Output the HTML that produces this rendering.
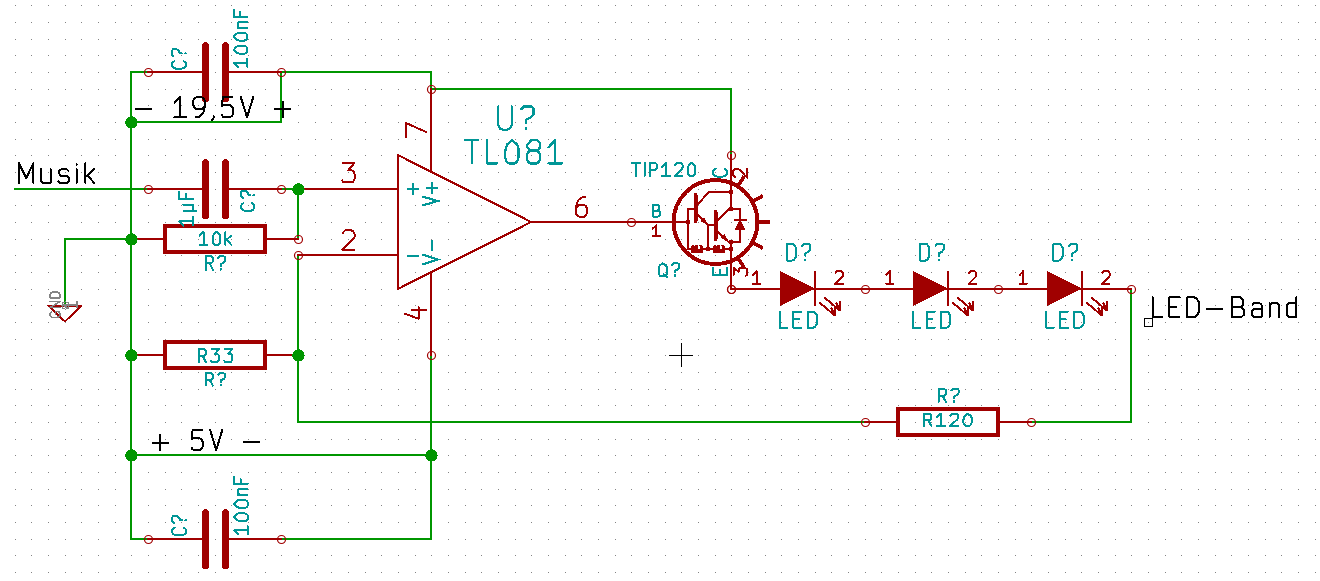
<!DOCTYPE html>
<html><head><meta charset="utf-8"><style>
html,body{margin:0;padding:0;background:#fff;overflow:hidden}
svg{display:block;shape-rendering:crispEdges}
text{font-family:"Liberation Sans",sans-serif;font-size:100px}
</style></head><body>
<svg width="1320" height="581" viewBox="0 0 1320 581">
<rect width="1320" height="581" fill="#fff"/>
<path fill="#848484" d="M15 5h1v1h-1zM15 22h1v1h-1zM15 39h1v1h-1zM15 55h1v1h-1zM15 72h1v1h-1zM15 89h1v1h-1zM15 105h1v1h-1zM15 122h1v1h-1zM15 139h1v1h-1zM15 155h1v1h-1zM15 172h1v1h-1zM15 189h1v1h-1zM15 205h1v1h-1zM15 222h1v1h-1zM15 239h1v1h-1zM15 255h1v1h-1zM15 272h1v1h-1zM15 289h1v1h-1zM15 305h1v1h-1zM15 322h1v1h-1zM15 339h1v1h-1zM15 355h1v1h-1zM15 372h1v1h-1zM15 389h1v1h-1zM15 405h1v1h-1zM15 422h1v1h-1zM15 439h1v1h-1zM15 455h1v1h-1zM15 472h1v1h-1zM15 489h1v1h-1zM15 505h1v1h-1zM15 522h1v1h-1zM15 539h1v1h-1zM15 555h1v1h-1zM15 572h1v1h-1zM31 5h1v1h-1zM31 22h1v1h-1zM31 39h1v1h-1zM31 55h1v1h-1zM31 72h1v1h-1zM31 89h1v1h-1zM31 105h1v1h-1zM31 122h1v1h-1zM31 139h1v1h-1zM31 155h1v1h-1zM31 172h1v1h-1zM31 189h1v1h-1zM31 205h1v1h-1zM31 222h1v1h-1zM31 239h1v1h-1zM31 255h1v1h-1zM31 272h1v1h-1zM31 289h1v1h-1zM31 305h1v1h-1zM31 322h1v1h-1zM31 339h1v1h-1zM31 355h1v1h-1zM31 372h1v1h-1zM31 389h1v1h-1zM31 405h1v1h-1zM31 422h1v1h-1zM31 439h1v1h-1zM31 455h1v1h-1zM31 472h1v1h-1zM31 489h1v1h-1zM31 505h1v1h-1zM31 522h1v1h-1zM31 539h1v1h-1zM31 555h1v1h-1zM31 572h1v1h-1zM48 5h1v1h-1zM48 22h1v1h-1zM48 39h1v1h-1zM48 55h1v1h-1zM48 72h1v1h-1zM48 89h1v1h-1zM48 105h1v1h-1zM48 122h1v1h-1zM48 139h1v1h-1zM48 155h1v1h-1zM48 172h1v1h-1zM48 189h1v1h-1zM48 205h1v1h-1zM48 222h1v1h-1zM48 239h1v1h-1zM48 255h1v1h-1zM48 272h1v1h-1zM48 289h1v1h-1zM48 305h1v1h-1zM48 322h1v1h-1zM48 339h1v1h-1zM48 355h1v1h-1zM48 372h1v1h-1zM48 389h1v1h-1zM48 405h1v1h-1zM48 422h1v1h-1zM48 439h1v1h-1zM48 455h1v1h-1zM48 472h1v1h-1zM48 489h1v1h-1zM48 505h1v1h-1zM48 522h1v1h-1zM48 539h1v1h-1zM48 555h1v1h-1zM48 572h1v1h-1zM65 5h1v1h-1zM65 22h1v1h-1zM65 39h1v1h-1zM65 55h1v1h-1zM65 72h1v1h-1zM65 89h1v1h-1zM65 105h1v1h-1zM65 122h1v1h-1zM65 139h1v1h-1zM65 155h1v1h-1zM65 172h1v1h-1zM65 189h1v1h-1zM65 205h1v1h-1zM65 222h1v1h-1zM65 239h1v1h-1zM65 255h1v1h-1zM65 272h1v1h-1zM65 289h1v1h-1zM65 305h1v1h-1zM65 322h1v1h-1zM65 339h1v1h-1zM65 355h1v1h-1zM65 372h1v1h-1zM65 389h1v1h-1zM65 405h1v1h-1zM65 422h1v1h-1zM65 439h1v1h-1zM65 455h1v1h-1zM65 472h1v1h-1zM65 489h1v1h-1zM65 505h1v1h-1zM65 522h1v1h-1zM65 539h1v1h-1zM65 555h1v1h-1zM65 572h1v1h-1zM81 5h1v1h-1zM81 22h1v1h-1zM81 39h1v1h-1zM81 55h1v1h-1zM81 72h1v1h-1zM81 89h1v1h-1zM81 105h1v1h-1zM81 122h1v1h-1zM81 139h1v1h-1zM81 155h1v1h-1zM81 172h1v1h-1zM81 189h1v1h-1zM81 205h1v1h-1zM81 222h1v1h-1zM81 239h1v1h-1zM81 255h1v1h-1zM81 272h1v1h-1zM81 289h1v1h-1zM81 305h1v1h-1zM81 322h1v1h-1zM81 339h1v1h-1zM81 355h1v1h-1zM81 372h1v1h-1zM81 389h1v1h-1zM81 405h1v1h-1zM81 422h1v1h-1zM81 439h1v1h-1zM81 455h1v1h-1zM81 472h1v1h-1zM81 489h1v1h-1zM81 505h1v1h-1zM81 522h1v1h-1zM81 539h1v1h-1zM81 555h1v1h-1zM81 572h1v1h-1zM98 5h1v1h-1zM98 22h1v1h-1zM98 39h1v1h-1zM98 55h1v1h-1zM98 72h1v1h-1zM98 89h1v1h-1zM98 105h1v1h-1zM98 122h1v1h-1zM98 139h1v1h-1zM98 155h1v1h-1zM98 172h1v1h-1zM98 189h1v1h-1zM98 205h1v1h-1zM98 222h1v1h-1zM98 239h1v1h-1zM98 255h1v1h-1zM98 272h1v1h-1zM98 289h1v1h-1zM98 305h1v1h-1zM98 322h1v1h-1zM98 339h1v1h-1zM98 355h1v1h-1zM98 372h1v1h-1zM98 389h1v1h-1zM98 405h1v1h-1zM98 422h1v1h-1zM98 439h1v1h-1zM98 455h1v1h-1zM98 472h1v1h-1zM98 489h1v1h-1zM98 505h1v1h-1zM98 522h1v1h-1zM98 539h1v1h-1zM98 555h1v1h-1zM98 572h1v1h-1zM115 5h1v1h-1zM115 22h1v1h-1zM115 39h1v1h-1zM115 55h1v1h-1zM115 72h1v1h-1zM115 89h1v1h-1zM115 105h1v1h-1zM115 122h1v1h-1zM115 139h1v1h-1zM115 155h1v1h-1zM115 172h1v1h-1zM115 189h1v1h-1zM115 205h1v1h-1zM115 222h1v1h-1zM115 239h1v1h-1zM115 255h1v1h-1zM115 272h1v1h-1zM115 289h1v1h-1zM115 305h1v1h-1zM115 322h1v1h-1zM115 339h1v1h-1zM115 355h1v1h-1zM115 372h1v1h-1zM115 389h1v1h-1zM115 405h1v1h-1zM115 422h1v1h-1zM115 439h1v1h-1zM115 455h1v1h-1zM115 472h1v1h-1zM115 489h1v1h-1zM115 505h1v1h-1zM115 522h1v1h-1zM115 539h1v1h-1zM115 555h1v1h-1zM115 572h1v1h-1zM131 5h1v1h-1zM131 22h1v1h-1zM131 39h1v1h-1zM131 55h1v1h-1zM131 72h1v1h-1zM131 89h1v1h-1zM131 105h1v1h-1zM131 122h1v1h-1zM131 139h1v1h-1zM131 155h1v1h-1zM131 172h1v1h-1zM131 189h1v1h-1zM131 205h1v1h-1zM131 222h1v1h-1zM131 239h1v1h-1zM131 255h1v1h-1zM131 272h1v1h-1zM131 289h1v1h-1zM131 305h1v1h-1zM131 322h1v1h-1zM131 339h1v1h-1zM131 355h1v1h-1zM131 372h1v1h-1zM131 389h1v1h-1zM131 405h1v1h-1zM131 422h1v1h-1zM131 439h1v1h-1zM131 455h1v1h-1zM131 472h1v1h-1zM131 489h1v1h-1zM131 505h1v1h-1zM131 522h1v1h-1zM131 539h1v1h-1zM131 555h1v1h-1zM131 572h1v1h-1zM148 5h1v1h-1zM148 22h1v1h-1zM148 39h1v1h-1zM148 55h1v1h-1zM148 72h1v1h-1zM148 89h1v1h-1zM148 105h1v1h-1zM148 122h1v1h-1zM148 139h1v1h-1zM148 155h1v1h-1zM148 172h1v1h-1zM148 189h1v1h-1zM148 205h1v1h-1zM148 222h1v1h-1zM148 239h1v1h-1zM148 255h1v1h-1zM148 272h1v1h-1zM148 289h1v1h-1zM148 305h1v1h-1zM148 322h1v1h-1zM148 339h1v1h-1zM148 355h1v1h-1zM148 372h1v1h-1zM148 389h1v1h-1zM148 405h1v1h-1zM148 422h1v1h-1zM148 439h1v1h-1zM148 455h1v1h-1zM148 472h1v1h-1zM148 489h1v1h-1zM148 505h1v1h-1zM148 522h1v1h-1zM148 539h1v1h-1zM148 555h1v1h-1zM148 572h1v1h-1zM165 5h1v1h-1zM165 22h1v1h-1zM165 39h1v1h-1zM165 55h1v1h-1zM165 72h1v1h-1zM165 89h1v1h-1zM165 105h1v1h-1zM165 122h1v1h-1zM165 139h1v1h-1zM165 155h1v1h-1zM165 172h1v1h-1zM165 189h1v1h-1zM165 205h1v1h-1zM165 222h1v1h-1zM165 239h1v1h-1zM165 255h1v1h-1zM165 272h1v1h-1zM165 289h1v1h-1zM165 305h1v1h-1zM165 322h1v1h-1zM165 339h1v1h-1zM165 355h1v1h-1zM165 372h1v1h-1zM165 389h1v1h-1zM165 405h1v1h-1zM165 422h1v1h-1zM165 439h1v1h-1zM165 455h1v1h-1zM165 472h1v1h-1zM165 489h1v1h-1zM165 505h1v1h-1zM165 522h1v1h-1zM165 539h1v1h-1zM165 555h1v1h-1zM165 572h1v1h-1zM181 5h1v1h-1zM181 22h1v1h-1zM181 39h1v1h-1zM181 55h1v1h-1zM181 72h1v1h-1zM181 89h1v1h-1zM181 105h1v1h-1zM181 122h1v1h-1zM181 139h1v1h-1zM181 155h1v1h-1zM181 172h1v1h-1zM181 189h1v1h-1zM181 205h1v1h-1zM181 222h1v1h-1zM181 239h1v1h-1zM181 255h1v1h-1zM181 272h1v1h-1zM181 289h1v1h-1zM181 305h1v1h-1zM181 322h1v1h-1zM181 339h1v1h-1zM181 355h1v1h-1zM181 372h1v1h-1zM181 389h1v1h-1zM181 405h1v1h-1zM181 422h1v1h-1zM181 439h1v1h-1zM181 455h1v1h-1zM181 472h1v1h-1zM181 489h1v1h-1zM181 505h1v1h-1zM181 522h1v1h-1zM181 539h1v1h-1zM181 555h1v1h-1zM181 572h1v1h-1zM198 5h1v1h-1zM198 22h1v1h-1zM198 39h1v1h-1zM198 55h1v1h-1zM198 72h1v1h-1zM198 89h1v1h-1zM198 105h1v1h-1zM198 122h1v1h-1zM198 139h1v1h-1zM198 155h1v1h-1zM198 172h1v1h-1zM198 189h1v1h-1zM198 205h1v1h-1zM198 222h1v1h-1zM198 239h1v1h-1zM198 255h1v1h-1zM198 272h1v1h-1zM198 289h1v1h-1zM198 305h1v1h-1zM198 322h1v1h-1zM198 339h1v1h-1zM198 355h1v1h-1zM198 372h1v1h-1zM198 389h1v1h-1zM198 405h1v1h-1zM198 422h1v1h-1zM198 439h1v1h-1zM198 455h1v1h-1zM198 472h1v1h-1zM198 489h1v1h-1zM198 505h1v1h-1zM198 522h1v1h-1zM198 539h1v1h-1zM198 555h1v1h-1zM198 572h1v1h-1zM215 5h1v1h-1zM215 22h1v1h-1zM215 39h1v1h-1zM215 55h1v1h-1zM215 72h1v1h-1zM215 89h1v1h-1zM215 105h1v1h-1zM215 122h1v1h-1zM215 139h1v1h-1zM215 155h1v1h-1zM215 172h1v1h-1zM215 189h1v1h-1zM215 205h1v1h-1zM215 222h1v1h-1zM215 239h1v1h-1zM215 255h1v1h-1zM215 272h1v1h-1zM215 289h1v1h-1zM215 305h1v1h-1zM215 322h1v1h-1zM215 339h1v1h-1zM215 355h1v1h-1zM215 372h1v1h-1zM215 389h1v1h-1zM215 405h1v1h-1zM215 422h1v1h-1zM215 439h1v1h-1zM215 455h1v1h-1zM215 472h1v1h-1zM215 489h1v1h-1zM215 505h1v1h-1zM215 522h1v1h-1zM215 539h1v1h-1zM215 555h1v1h-1zM215 572h1v1h-1zM231 5h1v1h-1zM231 22h1v1h-1zM231 39h1v1h-1zM231 55h1v1h-1zM231 72h1v1h-1zM231 89h1v1h-1zM231 105h1v1h-1zM231 122h1v1h-1zM231 139h1v1h-1zM231 155h1v1h-1zM231 172h1v1h-1zM231 189h1v1h-1zM231 205h1v1h-1zM231 222h1v1h-1zM231 239h1v1h-1zM231 255h1v1h-1zM231 272h1v1h-1zM231 289h1v1h-1zM231 305h1v1h-1zM231 322h1v1h-1zM231 339h1v1h-1zM231 355h1v1h-1zM231 372h1v1h-1zM231 389h1v1h-1zM231 405h1v1h-1zM231 422h1v1h-1zM231 439h1v1h-1zM231 455h1v1h-1zM231 472h1v1h-1zM231 489h1v1h-1zM231 505h1v1h-1zM231 522h1v1h-1zM231 539h1v1h-1zM231 555h1v1h-1zM231 572h1v1h-1zM248 5h1v1h-1zM248 22h1v1h-1zM248 39h1v1h-1zM248 55h1v1h-1zM248 72h1v1h-1zM248 89h1v1h-1zM248 105h1v1h-1zM248 122h1v1h-1zM248 139h1v1h-1zM248 155h1v1h-1zM248 172h1v1h-1zM248 189h1v1h-1zM248 205h1v1h-1zM248 222h1v1h-1zM248 239h1v1h-1zM248 255h1v1h-1zM248 272h1v1h-1zM248 289h1v1h-1zM248 305h1v1h-1zM248 322h1v1h-1zM248 339h1v1h-1zM248 355h1v1h-1zM248 372h1v1h-1zM248 389h1v1h-1zM248 405h1v1h-1zM248 422h1v1h-1zM248 439h1v1h-1zM248 455h1v1h-1zM248 472h1v1h-1zM248 489h1v1h-1zM248 505h1v1h-1zM248 522h1v1h-1zM248 539h1v1h-1zM248 555h1v1h-1zM248 572h1v1h-1zM265 5h1v1h-1zM265 22h1v1h-1zM265 39h1v1h-1zM265 55h1v1h-1zM265 72h1v1h-1zM265 89h1v1h-1zM265 105h1v1h-1zM265 122h1v1h-1zM265 139h1v1h-1zM265 155h1v1h-1zM265 172h1v1h-1zM265 189h1v1h-1zM265 205h1v1h-1zM265 222h1v1h-1zM265 239h1v1h-1zM265 255h1v1h-1zM265 272h1v1h-1zM265 289h1v1h-1zM265 305h1v1h-1zM265 322h1v1h-1zM265 339h1v1h-1zM265 355h1v1h-1zM265 372h1v1h-1zM265 389h1v1h-1zM265 405h1v1h-1zM265 422h1v1h-1zM265 439h1v1h-1zM265 455h1v1h-1zM265 472h1v1h-1zM265 489h1v1h-1zM265 505h1v1h-1zM265 522h1v1h-1zM265 539h1v1h-1zM265 555h1v1h-1zM265 572h1v1h-1zM281 5h1v1h-1zM281 22h1v1h-1zM281 39h1v1h-1zM281 55h1v1h-1zM281 72h1v1h-1zM281 89h1v1h-1zM281 105h1v1h-1zM281 122h1v1h-1zM281 139h1v1h-1zM281 155h1v1h-1zM281 172h1v1h-1zM281 189h1v1h-1zM281 205h1v1h-1zM281 222h1v1h-1zM281 239h1v1h-1zM281 255h1v1h-1zM281 272h1v1h-1zM281 289h1v1h-1zM281 305h1v1h-1zM281 322h1v1h-1zM281 339h1v1h-1zM281 355h1v1h-1zM281 372h1v1h-1zM281 389h1v1h-1zM281 405h1v1h-1zM281 422h1v1h-1zM281 439h1v1h-1zM281 455h1v1h-1zM281 472h1v1h-1zM281 489h1v1h-1zM281 505h1v1h-1zM281 522h1v1h-1zM281 539h1v1h-1zM281 555h1v1h-1zM281 572h1v1h-1zM298 5h1v1h-1zM298 22h1v1h-1zM298 39h1v1h-1zM298 55h1v1h-1zM298 72h1v1h-1zM298 89h1v1h-1zM298 105h1v1h-1zM298 122h1v1h-1zM298 139h1v1h-1zM298 155h1v1h-1zM298 172h1v1h-1zM298 189h1v1h-1zM298 205h1v1h-1zM298 222h1v1h-1zM298 239h1v1h-1zM298 255h1v1h-1zM298 272h1v1h-1zM298 289h1v1h-1zM298 305h1v1h-1zM298 322h1v1h-1zM298 339h1v1h-1zM298 355h1v1h-1zM298 372h1v1h-1zM298 389h1v1h-1zM298 405h1v1h-1zM298 422h1v1h-1zM298 439h1v1h-1zM298 455h1v1h-1zM298 472h1v1h-1zM298 489h1v1h-1zM298 505h1v1h-1zM298 522h1v1h-1zM298 539h1v1h-1zM298 555h1v1h-1zM298 572h1v1h-1zM315 5h1v1h-1zM315 22h1v1h-1zM315 39h1v1h-1zM315 55h1v1h-1zM315 72h1v1h-1zM315 89h1v1h-1zM315 105h1v1h-1zM315 122h1v1h-1zM315 139h1v1h-1zM315 155h1v1h-1zM315 172h1v1h-1zM315 189h1v1h-1zM315 205h1v1h-1zM315 222h1v1h-1zM315 239h1v1h-1zM315 255h1v1h-1zM315 272h1v1h-1zM315 289h1v1h-1zM315 305h1v1h-1zM315 322h1v1h-1zM315 339h1v1h-1zM315 355h1v1h-1zM315 372h1v1h-1zM315 389h1v1h-1zM315 405h1v1h-1zM315 422h1v1h-1zM315 439h1v1h-1zM315 455h1v1h-1zM315 472h1v1h-1zM315 489h1v1h-1zM315 505h1v1h-1zM315 522h1v1h-1zM315 539h1v1h-1zM315 555h1v1h-1zM315 572h1v1h-1zM331 5h1v1h-1zM331 22h1v1h-1zM331 39h1v1h-1zM331 55h1v1h-1zM331 72h1v1h-1zM331 89h1v1h-1zM331 105h1v1h-1zM331 122h1v1h-1zM331 139h1v1h-1zM331 155h1v1h-1zM331 172h1v1h-1zM331 189h1v1h-1zM331 205h1v1h-1zM331 222h1v1h-1zM331 239h1v1h-1zM331 255h1v1h-1zM331 272h1v1h-1zM331 289h1v1h-1zM331 305h1v1h-1zM331 322h1v1h-1zM331 339h1v1h-1zM331 355h1v1h-1zM331 372h1v1h-1zM331 389h1v1h-1zM331 405h1v1h-1zM331 422h1v1h-1zM331 439h1v1h-1zM331 455h1v1h-1zM331 472h1v1h-1zM331 489h1v1h-1zM331 505h1v1h-1zM331 522h1v1h-1zM331 539h1v1h-1zM331 555h1v1h-1zM331 572h1v1h-1zM348 5h1v1h-1zM348 22h1v1h-1zM348 39h1v1h-1zM348 55h1v1h-1zM348 72h1v1h-1zM348 89h1v1h-1zM348 105h1v1h-1zM348 122h1v1h-1zM348 139h1v1h-1zM348 155h1v1h-1zM348 172h1v1h-1zM348 189h1v1h-1zM348 205h1v1h-1zM348 222h1v1h-1zM348 239h1v1h-1zM348 255h1v1h-1zM348 272h1v1h-1zM348 289h1v1h-1zM348 305h1v1h-1zM348 322h1v1h-1zM348 339h1v1h-1zM348 355h1v1h-1zM348 372h1v1h-1zM348 389h1v1h-1zM348 405h1v1h-1zM348 422h1v1h-1zM348 439h1v1h-1zM348 455h1v1h-1zM348 472h1v1h-1zM348 489h1v1h-1zM348 505h1v1h-1zM348 522h1v1h-1zM348 539h1v1h-1zM348 555h1v1h-1zM348 572h1v1h-1zM365 5h1v1h-1zM365 22h1v1h-1zM365 39h1v1h-1zM365 55h1v1h-1zM365 72h1v1h-1zM365 89h1v1h-1zM365 105h1v1h-1zM365 122h1v1h-1zM365 139h1v1h-1zM365 155h1v1h-1zM365 172h1v1h-1zM365 189h1v1h-1zM365 205h1v1h-1zM365 222h1v1h-1zM365 239h1v1h-1zM365 255h1v1h-1zM365 272h1v1h-1zM365 289h1v1h-1zM365 305h1v1h-1zM365 322h1v1h-1zM365 339h1v1h-1zM365 355h1v1h-1zM365 372h1v1h-1zM365 389h1v1h-1zM365 405h1v1h-1zM365 422h1v1h-1zM365 439h1v1h-1zM365 455h1v1h-1zM365 472h1v1h-1zM365 489h1v1h-1zM365 505h1v1h-1zM365 522h1v1h-1zM365 539h1v1h-1zM365 555h1v1h-1zM365 572h1v1h-1zM381 5h1v1h-1zM381 22h1v1h-1zM381 39h1v1h-1zM381 55h1v1h-1zM381 72h1v1h-1zM381 89h1v1h-1zM381 105h1v1h-1zM381 122h1v1h-1zM381 139h1v1h-1zM381 155h1v1h-1zM381 172h1v1h-1zM381 189h1v1h-1zM381 205h1v1h-1zM381 222h1v1h-1zM381 239h1v1h-1zM381 255h1v1h-1zM381 272h1v1h-1zM381 289h1v1h-1zM381 305h1v1h-1zM381 322h1v1h-1zM381 339h1v1h-1zM381 355h1v1h-1zM381 372h1v1h-1zM381 389h1v1h-1zM381 405h1v1h-1zM381 422h1v1h-1zM381 439h1v1h-1zM381 455h1v1h-1zM381 472h1v1h-1zM381 489h1v1h-1zM381 505h1v1h-1zM381 522h1v1h-1zM381 539h1v1h-1zM381 555h1v1h-1zM381 572h1v1h-1zM398 5h1v1h-1zM398 22h1v1h-1zM398 39h1v1h-1zM398 55h1v1h-1zM398 72h1v1h-1zM398 89h1v1h-1zM398 105h1v1h-1zM398 122h1v1h-1zM398 139h1v1h-1zM398 155h1v1h-1zM398 172h1v1h-1zM398 189h1v1h-1zM398 205h1v1h-1zM398 222h1v1h-1zM398 239h1v1h-1zM398 255h1v1h-1zM398 272h1v1h-1zM398 289h1v1h-1zM398 305h1v1h-1zM398 322h1v1h-1zM398 339h1v1h-1zM398 355h1v1h-1zM398 372h1v1h-1zM398 389h1v1h-1zM398 405h1v1h-1zM398 422h1v1h-1zM398 439h1v1h-1zM398 455h1v1h-1zM398 472h1v1h-1zM398 489h1v1h-1zM398 505h1v1h-1zM398 522h1v1h-1zM398 539h1v1h-1zM398 555h1v1h-1zM398 572h1v1h-1zM415 5h1v1h-1zM415 22h1v1h-1zM415 39h1v1h-1zM415 55h1v1h-1zM415 72h1v1h-1zM415 89h1v1h-1zM415 105h1v1h-1zM415 122h1v1h-1zM415 139h1v1h-1zM415 155h1v1h-1zM415 172h1v1h-1zM415 189h1v1h-1zM415 205h1v1h-1zM415 222h1v1h-1zM415 239h1v1h-1zM415 255h1v1h-1zM415 272h1v1h-1zM415 289h1v1h-1zM415 305h1v1h-1zM415 322h1v1h-1zM415 339h1v1h-1zM415 355h1v1h-1zM415 372h1v1h-1zM415 389h1v1h-1zM415 405h1v1h-1zM415 422h1v1h-1zM415 439h1v1h-1zM415 455h1v1h-1zM415 472h1v1h-1zM415 489h1v1h-1zM415 505h1v1h-1zM415 522h1v1h-1zM415 539h1v1h-1zM415 555h1v1h-1zM415 572h1v1h-1zM431 5h1v1h-1zM431 22h1v1h-1zM431 39h1v1h-1zM431 55h1v1h-1zM431 72h1v1h-1zM431 89h1v1h-1zM431 105h1v1h-1zM431 122h1v1h-1zM431 139h1v1h-1zM431 155h1v1h-1zM431 172h1v1h-1zM431 189h1v1h-1zM431 205h1v1h-1zM431 222h1v1h-1zM431 239h1v1h-1zM431 255h1v1h-1zM431 272h1v1h-1zM431 289h1v1h-1zM431 305h1v1h-1zM431 322h1v1h-1zM431 339h1v1h-1zM431 355h1v1h-1zM431 372h1v1h-1zM431 389h1v1h-1zM431 405h1v1h-1zM431 422h1v1h-1zM431 439h1v1h-1zM431 455h1v1h-1zM431 472h1v1h-1zM431 489h1v1h-1zM431 505h1v1h-1zM431 522h1v1h-1zM431 539h1v1h-1zM431 555h1v1h-1zM431 572h1v1h-1zM448 5h1v1h-1zM448 22h1v1h-1zM448 39h1v1h-1zM448 55h1v1h-1zM448 72h1v1h-1zM448 89h1v1h-1zM448 105h1v1h-1zM448 122h1v1h-1zM448 139h1v1h-1zM448 155h1v1h-1zM448 172h1v1h-1zM448 189h1v1h-1zM448 205h1v1h-1zM448 222h1v1h-1zM448 239h1v1h-1zM448 255h1v1h-1zM448 272h1v1h-1zM448 289h1v1h-1zM448 305h1v1h-1zM448 322h1v1h-1zM448 339h1v1h-1zM448 355h1v1h-1zM448 372h1v1h-1zM448 389h1v1h-1zM448 405h1v1h-1zM448 422h1v1h-1zM448 439h1v1h-1zM448 455h1v1h-1zM448 472h1v1h-1zM448 489h1v1h-1zM448 505h1v1h-1zM448 522h1v1h-1zM448 539h1v1h-1zM448 555h1v1h-1zM448 572h1v1h-1zM465 5h1v1h-1zM465 22h1v1h-1zM465 39h1v1h-1zM465 55h1v1h-1zM465 72h1v1h-1zM465 89h1v1h-1zM465 105h1v1h-1zM465 122h1v1h-1zM465 139h1v1h-1zM465 155h1v1h-1zM465 172h1v1h-1zM465 189h1v1h-1zM465 205h1v1h-1zM465 222h1v1h-1zM465 239h1v1h-1zM465 255h1v1h-1zM465 272h1v1h-1zM465 289h1v1h-1zM465 305h1v1h-1zM465 322h1v1h-1zM465 339h1v1h-1zM465 355h1v1h-1zM465 372h1v1h-1zM465 389h1v1h-1zM465 405h1v1h-1zM465 422h1v1h-1zM465 439h1v1h-1zM465 455h1v1h-1zM465 472h1v1h-1zM465 489h1v1h-1zM465 505h1v1h-1zM465 522h1v1h-1zM465 539h1v1h-1zM465 555h1v1h-1zM465 572h1v1h-1zM481 5h1v1h-1zM481 22h1v1h-1zM481 39h1v1h-1zM481 55h1v1h-1zM481 72h1v1h-1zM481 89h1v1h-1zM481 105h1v1h-1zM481 122h1v1h-1zM481 139h1v1h-1zM481 155h1v1h-1zM481 172h1v1h-1zM481 189h1v1h-1zM481 205h1v1h-1zM481 222h1v1h-1zM481 239h1v1h-1zM481 255h1v1h-1zM481 272h1v1h-1zM481 289h1v1h-1zM481 305h1v1h-1zM481 322h1v1h-1zM481 339h1v1h-1zM481 355h1v1h-1zM481 372h1v1h-1zM481 389h1v1h-1zM481 405h1v1h-1zM481 422h1v1h-1zM481 439h1v1h-1zM481 455h1v1h-1zM481 472h1v1h-1zM481 489h1v1h-1zM481 505h1v1h-1zM481 522h1v1h-1zM481 539h1v1h-1zM481 555h1v1h-1zM481 572h1v1h-1zM498 5h1v1h-1zM498 22h1v1h-1zM498 39h1v1h-1zM498 55h1v1h-1zM498 72h1v1h-1zM498 89h1v1h-1zM498 105h1v1h-1zM498 122h1v1h-1zM498 139h1v1h-1zM498 155h1v1h-1zM498 172h1v1h-1zM498 189h1v1h-1zM498 205h1v1h-1zM498 222h1v1h-1zM498 239h1v1h-1zM498 255h1v1h-1zM498 272h1v1h-1zM498 289h1v1h-1zM498 305h1v1h-1zM498 322h1v1h-1zM498 339h1v1h-1zM498 355h1v1h-1zM498 372h1v1h-1zM498 389h1v1h-1zM498 405h1v1h-1zM498 422h1v1h-1zM498 439h1v1h-1zM498 455h1v1h-1zM498 472h1v1h-1zM498 489h1v1h-1zM498 505h1v1h-1zM498 522h1v1h-1zM498 539h1v1h-1zM498 555h1v1h-1zM498 572h1v1h-1zM515 5h1v1h-1zM515 22h1v1h-1zM515 39h1v1h-1zM515 55h1v1h-1zM515 72h1v1h-1zM515 89h1v1h-1zM515 105h1v1h-1zM515 122h1v1h-1zM515 139h1v1h-1zM515 155h1v1h-1zM515 172h1v1h-1zM515 189h1v1h-1zM515 205h1v1h-1zM515 222h1v1h-1zM515 239h1v1h-1zM515 255h1v1h-1zM515 272h1v1h-1zM515 289h1v1h-1zM515 305h1v1h-1zM515 322h1v1h-1zM515 339h1v1h-1zM515 355h1v1h-1zM515 372h1v1h-1zM515 389h1v1h-1zM515 405h1v1h-1zM515 422h1v1h-1zM515 439h1v1h-1zM515 455h1v1h-1zM515 472h1v1h-1zM515 489h1v1h-1zM515 505h1v1h-1zM515 522h1v1h-1zM515 539h1v1h-1zM515 555h1v1h-1zM515 572h1v1h-1zM531 5h1v1h-1zM531 22h1v1h-1zM531 39h1v1h-1zM531 55h1v1h-1zM531 72h1v1h-1zM531 89h1v1h-1zM531 105h1v1h-1zM531 122h1v1h-1zM531 139h1v1h-1zM531 155h1v1h-1zM531 172h1v1h-1zM531 189h1v1h-1zM531 205h1v1h-1zM531 222h1v1h-1zM531 239h1v1h-1zM531 255h1v1h-1zM531 272h1v1h-1zM531 289h1v1h-1zM531 305h1v1h-1zM531 322h1v1h-1zM531 339h1v1h-1zM531 355h1v1h-1zM531 372h1v1h-1zM531 389h1v1h-1zM531 405h1v1h-1zM531 422h1v1h-1zM531 439h1v1h-1zM531 455h1v1h-1zM531 472h1v1h-1zM531 489h1v1h-1zM531 505h1v1h-1zM531 522h1v1h-1zM531 539h1v1h-1zM531 555h1v1h-1zM531 572h1v1h-1zM548 5h1v1h-1zM548 22h1v1h-1zM548 39h1v1h-1zM548 55h1v1h-1zM548 72h1v1h-1zM548 89h1v1h-1zM548 105h1v1h-1zM548 122h1v1h-1zM548 139h1v1h-1zM548 155h1v1h-1zM548 172h1v1h-1zM548 189h1v1h-1zM548 205h1v1h-1zM548 222h1v1h-1zM548 239h1v1h-1zM548 255h1v1h-1zM548 272h1v1h-1zM548 289h1v1h-1zM548 305h1v1h-1zM548 322h1v1h-1zM548 339h1v1h-1zM548 355h1v1h-1zM548 372h1v1h-1zM548 389h1v1h-1zM548 405h1v1h-1zM548 422h1v1h-1zM548 439h1v1h-1zM548 455h1v1h-1zM548 472h1v1h-1zM548 489h1v1h-1zM548 505h1v1h-1zM548 522h1v1h-1zM548 539h1v1h-1zM548 555h1v1h-1zM548 572h1v1h-1zM565 5h1v1h-1zM565 22h1v1h-1zM565 39h1v1h-1zM565 55h1v1h-1zM565 72h1v1h-1zM565 89h1v1h-1zM565 105h1v1h-1zM565 122h1v1h-1zM565 139h1v1h-1zM565 155h1v1h-1zM565 172h1v1h-1zM565 189h1v1h-1zM565 205h1v1h-1zM565 222h1v1h-1zM565 239h1v1h-1zM565 255h1v1h-1zM565 272h1v1h-1zM565 289h1v1h-1zM565 305h1v1h-1zM565 322h1v1h-1zM565 339h1v1h-1zM565 355h1v1h-1zM565 372h1v1h-1zM565 389h1v1h-1zM565 405h1v1h-1zM565 422h1v1h-1zM565 439h1v1h-1zM565 455h1v1h-1zM565 472h1v1h-1zM565 489h1v1h-1zM565 505h1v1h-1zM565 522h1v1h-1zM565 539h1v1h-1zM565 555h1v1h-1zM565 572h1v1h-1zM581 5h1v1h-1zM581 22h1v1h-1zM581 39h1v1h-1zM581 55h1v1h-1zM581 72h1v1h-1zM581 89h1v1h-1zM581 105h1v1h-1zM581 122h1v1h-1zM581 139h1v1h-1zM581 155h1v1h-1zM581 172h1v1h-1zM581 189h1v1h-1zM581 205h1v1h-1zM581 222h1v1h-1zM581 239h1v1h-1zM581 255h1v1h-1zM581 272h1v1h-1zM581 289h1v1h-1zM581 305h1v1h-1zM581 322h1v1h-1zM581 339h1v1h-1zM581 355h1v1h-1zM581 372h1v1h-1zM581 389h1v1h-1zM581 405h1v1h-1zM581 422h1v1h-1zM581 439h1v1h-1zM581 455h1v1h-1zM581 472h1v1h-1zM581 489h1v1h-1zM581 505h1v1h-1zM581 522h1v1h-1zM581 539h1v1h-1zM581 555h1v1h-1zM581 572h1v1h-1zM598 5h1v1h-1zM598 22h1v1h-1zM598 39h1v1h-1zM598 55h1v1h-1zM598 72h1v1h-1zM598 89h1v1h-1zM598 105h1v1h-1zM598 122h1v1h-1zM598 139h1v1h-1zM598 155h1v1h-1zM598 172h1v1h-1zM598 189h1v1h-1zM598 205h1v1h-1zM598 222h1v1h-1zM598 239h1v1h-1zM598 255h1v1h-1zM598 272h1v1h-1zM598 289h1v1h-1zM598 305h1v1h-1zM598 322h1v1h-1zM598 339h1v1h-1zM598 355h1v1h-1zM598 372h1v1h-1zM598 389h1v1h-1zM598 405h1v1h-1zM598 422h1v1h-1zM598 439h1v1h-1zM598 455h1v1h-1zM598 472h1v1h-1zM598 489h1v1h-1zM598 505h1v1h-1zM598 522h1v1h-1zM598 539h1v1h-1zM598 555h1v1h-1zM598 572h1v1h-1zM615 5h1v1h-1zM615 22h1v1h-1zM615 39h1v1h-1zM615 55h1v1h-1zM615 72h1v1h-1zM615 89h1v1h-1zM615 105h1v1h-1zM615 122h1v1h-1zM615 139h1v1h-1zM615 155h1v1h-1zM615 172h1v1h-1zM615 189h1v1h-1zM615 205h1v1h-1zM615 222h1v1h-1zM615 239h1v1h-1zM615 255h1v1h-1zM615 272h1v1h-1zM615 289h1v1h-1zM615 305h1v1h-1zM615 322h1v1h-1zM615 339h1v1h-1zM615 355h1v1h-1zM615 372h1v1h-1zM615 389h1v1h-1zM615 405h1v1h-1zM615 422h1v1h-1zM615 439h1v1h-1zM615 455h1v1h-1zM615 472h1v1h-1zM615 489h1v1h-1zM615 505h1v1h-1zM615 522h1v1h-1zM615 539h1v1h-1zM615 555h1v1h-1zM615 572h1v1h-1zM631 5h1v1h-1zM631 22h1v1h-1zM631 39h1v1h-1zM631 55h1v1h-1zM631 72h1v1h-1zM631 89h1v1h-1zM631 105h1v1h-1zM631 122h1v1h-1zM631 139h1v1h-1zM631 155h1v1h-1zM631 172h1v1h-1zM631 189h1v1h-1zM631 205h1v1h-1zM631 222h1v1h-1zM631 239h1v1h-1zM631 255h1v1h-1zM631 272h1v1h-1zM631 289h1v1h-1zM631 305h1v1h-1zM631 322h1v1h-1zM631 339h1v1h-1zM631 355h1v1h-1zM631 372h1v1h-1zM631 389h1v1h-1zM631 405h1v1h-1zM631 422h1v1h-1zM631 439h1v1h-1zM631 455h1v1h-1zM631 472h1v1h-1zM631 489h1v1h-1zM631 505h1v1h-1zM631 522h1v1h-1zM631 539h1v1h-1zM631 555h1v1h-1zM631 572h1v1h-1zM648 5h1v1h-1zM648 22h1v1h-1zM648 39h1v1h-1zM648 55h1v1h-1zM648 72h1v1h-1zM648 89h1v1h-1zM648 105h1v1h-1zM648 122h1v1h-1zM648 139h1v1h-1zM648 155h1v1h-1zM648 172h1v1h-1zM648 189h1v1h-1zM648 205h1v1h-1zM648 222h1v1h-1zM648 239h1v1h-1zM648 255h1v1h-1zM648 272h1v1h-1zM648 289h1v1h-1zM648 305h1v1h-1zM648 322h1v1h-1zM648 339h1v1h-1zM648 355h1v1h-1zM648 372h1v1h-1zM648 389h1v1h-1zM648 405h1v1h-1zM648 422h1v1h-1zM648 439h1v1h-1zM648 455h1v1h-1zM648 472h1v1h-1zM648 489h1v1h-1zM648 505h1v1h-1zM648 522h1v1h-1zM648 539h1v1h-1zM648 555h1v1h-1zM648 572h1v1h-1zM665 5h1v1h-1zM665 22h1v1h-1zM665 39h1v1h-1zM665 55h1v1h-1zM665 72h1v1h-1zM665 89h1v1h-1zM665 105h1v1h-1zM665 122h1v1h-1zM665 139h1v1h-1zM665 155h1v1h-1zM665 172h1v1h-1zM665 189h1v1h-1zM665 205h1v1h-1zM665 222h1v1h-1zM665 239h1v1h-1zM665 255h1v1h-1zM665 272h1v1h-1zM665 289h1v1h-1zM665 305h1v1h-1zM665 322h1v1h-1zM665 339h1v1h-1zM665 355h1v1h-1zM665 372h1v1h-1zM665 389h1v1h-1zM665 405h1v1h-1zM665 422h1v1h-1zM665 439h1v1h-1zM665 455h1v1h-1zM665 472h1v1h-1zM665 489h1v1h-1zM665 505h1v1h-1zM665 522h1v1h-1zM665 539h1v1h-1zM665 555h1v1h-1zM665 572h1v1h-1zM681 5h1v1h-1zM681 22h1v1h-1zM681 39h1v1h-1zM681 55h1v1h-1zM681 72h1v1h-1zM681 89h1v1h-1zM681 105h1v1h-1zM681 122h1v1h-1zM681 139h1v1h-1zM681 155h1v1h-1zM681 172h1v1h-1zM681 189h1v1h-1zM681 205h1v1h-1zM681 222h1v1h-1zM681 239h1v1h-1zM681 255h1v1h-1zM681 272h1v1h-1zM681 289h1v1h-1zM681 305h1v1h-1zM681 322h1v1h-1zM681 339h1v1h-1zM681 355h1v1h-1zM681 372h1v1h-1zM681 389h1v1h-1zM681 405h1v1h-1zM681 422h1v1h-1zM681 439h1v1h-1zM681 455h1v1h-1zM681 472h1v1h-1zM681 489h1v1h-1zM681 505h1v1h-1zM681 522h1v1h-1zM681 539h1v1h-1zM681 555h1v1h-1zM681 572h1v1h-1zM698 5h1v1h-1zM698 22h1v1h-1zM698 39h1v1h-1zM698 55h1v1h-1zM698 72h1v1h-1zM698 89h1v1h-1zM698 105h1v1h-1zM698 122h1v1h-1zM698 139h1v1h-1zM698 155h1v1h-1zM698 172h1v1h-1zM698 189h1v1h-1zM698 205h1v1h-1zM698 222h1v1h-1zM698 239h1v1h-1zM698 255h1v1h-1zM698 272h1v1h-1zM698 289h1v1h-1zM698 305h1v1h-1zM698 322h1v1h-1zM698 339h1v1h-1zM698 355h1v1h-1zM698 372h1v1h-1zM698 389h1v1h-1zM698 405h1v1h-1zM698 422h1v1h-1zM698 439h1v1h-1zM698 455h1v1h-1zM698 472h1v1h-1zM698 489h1v1h-1zM698 505h1v1h-1zM698 522h1v1h-1zM698 539h1v1h-1zM698 555h1v1h-1zM698 572h1v1h-1zM715 5h1v1h-1zM715 22h1v1h-1zM715 39h1v1h-1zM715 55h1v1h-1zM715 72h1v1h-1zM715 89h1v1h-1zM715 105h1v1h-1zM715 122h1v1h-1zM715 139h1v1h-1zM715 155h1v1h-1zM715 172h1v1h-1zM715 189h1v1h-1zM715 205h1v1h-1zM715 222h1v1h-1zM715 239h1v1h-1zM715 255h1v1h-1zM715 272h1v1h-1zM715 289h1v1h-1zM715 305h1v1h-1zM715 322h1v1h-1zM715 339h1v1h-1zM715 355h1v1h-1zM715 372h1v1h-1zM715 389h1v1h-1zM715 405h1v1h-1zM715 422h1v1h-1zM715 439h1v1h-1zM715 455h1v1h-1zM715 472h1v1h-1zM715 489h1v1h-1zM715 505h1v1h-1zM715 522h1v1h-1zM715 539h1v1h-1zM715 555h1v1h-1zM715 572h1v1h-1zM731 5h1v1h-1zM731 22h1v1h-1zM731 39h1v1h-1zM731 55h1v1h-1zM731 72h1v1h-1zM731 89h1v1h-1zM731 105h1v1h-1zM731 122h1v1h-1zM731 139h1v1h-1zM731 155h1v1h-1zM731 172h1v1h-1zM731 189h1v1h-1zM731 205h1v1h-1zM731 222h1v1h-1zM731 239h1v1h-1zM731 255h1v1h-1zM731 272h1v1h-1zM731 289h1v1h-1zM731 305h1v1h-1zM731 322h1v1h-1zM731 339h1v1h-1zM731 355h1v1h-1zM731 372h1v1h-1zM731 389h1v1h-1zM731 405h1v1h-1zM731 422h1v1h-1zM731 439h1v1h-1zM731 455h1v1h-1zM731 472h1v1h-1zM731 489h1v1h-1zM731 505h1v1h-1zM731 522h1v1h-1zM731 539h1v1h-1zM731 555h1v1h-1zM731 572h1v1h-1zM748 5h1v1h-1zM748 22h1v1h-1zM748 39h1v1h-1zM748 55h1v1h-1zM748 72h1v1h-1zM748 89h1v1h-1zM748 105h1v1h-1zM748 122h1v1h-1zM748 139h1v1h-1zM748 155h1v1h-1zM748 172h1v1h-1zM748 189h1v1h-1zM748 205h1v1h-1zM748 222h1v1h-1zM748 239h1v1h-1zM748 255h1v1h-1zM748 272h1v1h-1zM748 289h1v1h-1zM748 305h1v1h-1zM748 322h1v1h-1zM748 339h1v1h-1zM748 355h1v1h-1zM748 372h1v1h-1zM748 389h1v1h-1zM748 405h1v1h-1zM748 422h1v1h-1zM748 439h1v1h-1zM748 455h1v1h-1zM748 472h1v1h-1zM748 489h1v1h-1zM748 505h1v1h-1zM748 522h1v1h-1zM748 539h1v1h-1zM748 555h1v1h-1zM748 572h1v1h-1zM765 5h1v1h-1zM765 22h1v1h-1zM765 39h1v1h-1zM765 55h1v1h-1zM765 72h1v1h-1zM765 89h1v1h-1zM765 105h1v1h-1zM765 122h1v1h-1zM765 139h1v1h-1zM765 155h1v1h-1zM765 172h1v1h-1zM765 189h1v1h-1zM765 205h1v1h-1zM765 222h1v1h-1zM765 239h1v1h-1zM765 255h1v1h-1zM765 272h1v1h-1zM765 289h1v1h-1zM765 305h1v1h-1zM765 322h1v1h-1zM765 339h1v1h-1zM765 355h1v1h-1zM765 372h1v1h-1zM765 389h1v1h-1zM765 405h1v1h-1zM765 422h1v1h-1zM765 439h1v1h-1zM765 455h1v1h-1zM765 472h1v1h-1zM765 489h1v1h-1zM765 505h1v1h-1zM765 522h1v1h-1zM765 539h1v1h-1zM765 555h1v1h-1zM765 572h1v1h-1zM781 5h1v1h-1zM781 22h1v1h-1zM781 39h1v1h-1zM781 55h1v1h-1zM781 72h1v1h-1zM781 89h1v1h-1zM781 105h1v1h-1zM781 122h1v1h-1zM781 139h1v1h-1zM781 155h1v1h-1zM781 172h1v1h-1zM781 189h1v1h-1zM781 205h1v1h-1zM781 222h1v1h-1zM781 239h1v1h-1zM781 255h1v1h-1zM781 272h1v1h-1zM781 289h1v1h-1zM781 305h1v1h-1zM781 322h1v1h-1zM781 339h1v1h-1zM781 355h1v1h-1zM781 372h1v1h-1zM781 389h1v1h-1zM781 405h1v1h-1zM781 422h1v1h-1zM781 439h1v1h-1zM781 455h1v1h-1zM781 472h1v1h-1zM781 489h1v1h-1zM781 505h1v1h-1zM781 522h1v1h-1zM781 539h1v1h-1zM781 555h1v1h-1zM781 572h1v1h-1zM798 5h1v1h-1zM798 22h1v1h-1zM798 39h1v1h-1zM798 55h1v1h-1zM798 72h1v1h-1zM798 89h1v1h-1zM798 105h1v1h-1zM798 122h1v1h-1zM798 139h1v1h-1zM798 155h1v1h-1zM798 172h1v1h-1zM798 189h1v1h-1zM798 205h1v1h-1zM798 222h1v1h-1zM798 239h1v1h-1zM798 255h1v1h-1zM798 272h1v1h-1zM798 289h1v1h-1zM798 305h1v1h-1zM798 322h1v1h-1zM798 339h1v1h-1zM798 355h1v1h-1zM798 372h1v1h-1zM798 389h1v1h-1zM798 405h1v1h-1zM798 422h1v1h-1zM798 439h1v1h-1zM798 455h1v1h-1zM798 472h1v1h-1zM798 489h1v1h-1zM798 505h1v1h-1zM798 522h1v1h-1zM798 539h1v1h-1zM798 555h1v1h-1zM798 572h1v1h-1zM815 5h1v1h-1zM815 22h1v1h-1zM815 39h1v1h-1zM815 55h1v1h-1zM815 72h1v1h-1zM815 89h1v1h-1zM815 105h1v1h-1zM815 122h1v1h-1zM815 139h1v1h-1zM815 155h1v1h-1zM815 172h1v1h-1zM815 189h1v1h-1zM815 205h1v1h-1zM815 222h1v1h-1zM815 239h1v1h-1zM815 255h1v1h-1zM815 272h1v1h-1zM815 289h1v1h-1zM815 305h1v1h-1zM815 322h1v1h-1zM815 339h1v1h-1zM815 355h1v1h-1zM815 372h1v1h-1zM815 389h1v1h-1zM815 405h1v1h-1zM815 422h1v1h-1zM815 439h1v1h-1zM815 455h1v1h-1zM815 472h1v1h-1zM815 489h1v1h-1zM815 505h1v1h-1zM815 522h1v1h-1zM815 539h1v1h-1zM815 555h1v1h-1zM815 572h1v1h-1zM831 5h1v1h-1zM831 22h1v1h-1zM831 39h1v1h-1zM831 55h1v1h-1zM831 72h1v1h-1zM831 89h1v1h-1zM831 105h1v1h-1zM831 122h1v1h-1zM831 139h1v1h-1zM831 155h1v1h-1zM831 172h1v1h-1zM831 189h1v1h-1zM831 205h1v1h-1zM831 222h1v1h-1zM831 239h1v1h-1zM831 255h1v1h-1zM831 272h1v1h-1zM831 289h1v1h-1zM831 305h1v1h-1zM831 322h1v1h-1zM831 339h1v1h-1zM831 355h1v1h-1zM831 372h1v1h-1zM831 389h1v1h-1zM831 405h1v1h-1zM831 422h1v1h-1zM831 439h1v1h-1zM831 455h1v1h-1zM831 472h1v1h-1zM831 489h1v1h-1zM831 505h1v1h-1zM831 522h1v1h-1zM831 539h1v1h-1zM831 555h1v1h-1zM831 572h1v1h-1zM848 5h1v1h-1zM848 22h1v1h-1zM848 39h1v1h-1zM848 55h1v1h-1zM848 72h1v1h-1zM848 89h1v1h-1zM848 105h1v1h-1zM848 122h1v1h-1zM848 139h1v1h-1zM848 155h1v1h-1zM848 172h1v1h-1zM848 189h1v1h-1zM848 205h1v1h-1zM848 222h1v1h-1zM848 239h1v1h-1zM848 255h1v1h-1zM848 272h1v1h-1zM848 289h1v1h-1zM848 305h1v1h-1zM848 322h1v1h-1zM848 339h1v1h-1zM848 355h1v1h-1zM848 372h1v1h-1zM848 389h1v1h-1zM848 405h1v1h-1zM848 422h1v1h-1zM848 439h1v1h-1zM848 455h1v1h-1zM848 472h1v1h-1zM848 489h1v1h-1zM848 505h1v1h-1zM848 522h1v1h-1zM848 539h1v1h-1zM848 555h1v1h-1zM848 572h1v1h-1zM865 5h1v1h-1zM865 22h1v1h-1zM865 39h1v1h-1zM865 55h1v1h-1zM865 72h1v1h-1zM865 89h1v1h-1zM865 105h1v1h-1zM865 122h1v1h-1zM865 139h1v1h-1zM865 155h1v1h-1zM865 172h1v1h-1zM865 189h1v1h-1zM865 205h1v1h-1zM865 222h1v1h-1zM865 239h1v1h-1zM865 255h1v1h-1zM865 272h1v1h-1zM865 289h1v1h-1zM865 305h1v1h-1zM865 322h1v1h-1zM865 339h1v1h-1zM865 355h1v1h-1zM865 372h1v1h-1zM865 389h1v1h-1zM865 405h1v1h-1zM865 422h1v1h-1zM865 439h1v1h-1zM865 455h1v1h-1zM865 472h1v1h-1zM865 489h1v1h-1zM865 505h1v1h-1zM865 522h1v1h-1zM865 539h1v1h-1zM865 555h1v1h-1zM865 572h1v1h-1zM881 5h1v1h-1zM881 22h1v1h-1zM881 39h1v1h-1zM881 55h1v1h-1zM881 72h1v1h-1zM881 89h1v1h-1zM881 105h1v1h-1zM881 122h1v1h-1zM881 139h1v1h-1zM881 155h1v1h-1zM881 172h1v1h-1zM881 189h1v1h-1zM881 205h1v1h-1zM881 222h1v1h-1zM881 239h1v1h-1zM881 255h1v1h-1zM881 272h1v1h-1zM881 289h1v1h-1zM881 305h1v1h-1zM881 322h1v1h-1zM881 339h1v1h-1zM881 355h1v1h-1zM881 372h1v1h-1zM881 389h1v1h-1zM881 405h1v1h-1zM881 422h1v1h-1zM881 439h1v1h-1zM881 455h1v1h-1zM881 472h1v1h-1zM881 489h1v1h-1zM881 505h1v1h-1zM881 522h1v1h-1zM881 539h1v1h-1zM881 555h1v1h-1zM881 572h1v1h-1zM898 5h1v1h-1zM898 22h1v1h-1zM898 39h1v1h-1zM898 55h1v1h-1zM898 72h1v1h-1zM898 89h1v1h-1zM898 105h1v1h-1zM898 122h1v1h-1zM898 139h1v1h-1zM898 155h1v1h-1zM898 172h1v1h-1zM898 189h1v1h-1zM898 205h1v1h-1zM898 222h1v1h-1zM898 239h1v1h-1zM898 255h1v1h-1zM898 272h1v1h-1zM898 289h1v1h-1zM898 305h1v1h-1zM898 322h1v1h-1zM898 339h1v1h-1zM898 355h1v1h-1zM898 372h1v1h-1zM898 389h1v1h-1zM898 405h1v1h-1zM898 422h1v1h-1zM898 439h1v1h-1zM898 455h1v1h-1zM898 472h1v1h-1zM898 489h1v1h-1zM898 505h1v1h-1zM898 522h1v1h-1zM898 539h1v1h-1zM898 555h1v1h-1zM898 572h1v1h-1zM915 5h1v1h-1zM915 22h1v1h-1zM915 39h1v1h-1zM915 55h1v1h-1zM915 72h1v1h-1zM915 89h1v1h-1zM915 105h1v1h-1zM915 122h1v1h-1zM915 139h1v1h-1zM915 155h1v1h-1zM915 172h1v1h-1zM915 189h1v1h-1zM915 205h1v1h-1zM915 222h1v1h-1zM915 239h1v1h-1zM915 255h1v1h-1zM915 272h1v1h-1zM915 289h1v1h-1zM915 305h1v1h-1zM915 322h1v1h-1zM915 339h1v1h-1zM915 355h1v1h-1zM915 372h1v1h-1zM915 389h1v1h-1zM915 405h1v1h-1zM915 422h1v1h-1zM915 439h1v1h-1zM915 455h1v1h-1zM915 472h1v1h-1zM915 489h1v1h-1zM915 505h1v1h-1zM915 522h1v1h-1zM915 539h1v1h-1zM915 555h1v1h-1zM915 572h1v1h-1zM931 5h1v1h-1zM931 22h1v1h-1zM931 39h1v1h-1zM931 55h1v1h-1zM931 72h1v1h-1zM931 89h1v1h-1zM931 105h1v1h-1zM931 122h1v1h-1zM931 139h1v1h-1zM931 155h1v1h-1zM931 172h1v1h-1zM931 189h1v1h-1zM931 205h1v1h-1zM931 222h1v1h-1zM931 239h1v1h-1zM931 255h1v1h-1zM931 272h1v1h-1zM931 289h1v1h-1zM931 305h1v1h-1zM931 322h1v1h-1zM931 339h1v1h-1zM931 355h1v1h-1zM931 372h1v1h-1zM931 389h1v1h-1zM931 405h1v1h-1zM931 422h1v1h-1zM931 439h1v1h-1zM931 455h1v1h-1zM931 472h1v1h-1zM931 489h1v1h-1zM931 505h1v1h-1zM931 522h1v1h-1zM931 539h1v1h-1zM931 555h1v1h-1zM931 572h1v1h-1zM948 5h1v1h-1zM948 22h1v1h-1zM948 39h1v1h-1zM948 55h1v1h-1zM948 72h1v1h-1zM948 89h1v1h-1zM948 105h1v1h-1zM948 122h1v1h-1zM948 139h1v1h-1zM948 155h1v1h-1zM948 172h1v1h-1zM948 189h1v1h-1zM948 205h1v1h-1zM948 222h1v1h-1zM948 239h1v1h-1zM948 255h1v1h-1zM948 272h1v1h-1zM948 289h1v1h-1zM948 305h1v1h-1zM948 322h1v1h-1zM948 339h1v1h-1zM948 355h1v1h-1zM948 372h1v1h-1zM948 389h1v1h-1zM948 405h1v1h-1zM948 422h1v1h-1zM948 439h1v1h-1zM948 455h1v1h-1zM948 472h1v1h-1zM948 489h1v1h-1zM948 505h1v1h-1zM948 522h1v1h-1zM948 539h1v1h-1zM948 555h1v1h-1zM948 572h1v1h-1zM965 5h1v1h-1zM965 22h1v1h-1zM965 39h1v1h-1zM965 55h1v1h-1zM965 72h1v1h-1zM965 89h1v1h-1zM965 105h1v1h-1zM965 122h1v1h-1zM965 139h1v1h-1zM965 155h1v1h-1zM965 172h1v1h-1zM965 189h1v1h-1zM965 205h1v1h-1zM965 222h1v1h-1zM965 239h1v1h-1zM965 255h1v1h-1zM965 272h1v1h-1zM965 289h1v1h-1zM965 305h1v1h-1zM965 322h1v1h-1zM965 339h1v1h-1zM965 355h1v1h-1zM965 372h1v1h-1zM965 389h1v1h-1zM965 405h1v1h-1zM965 422h1v1h-1zM965 439h1v1h-1zM965 455h1v1h-1zM965 472h1v1h-1zM965 489h1v1h-1zM965 505h1v1h-1zM965 522h1v1h-1zM965 539h1v1h-1zM965 555h1v1h-1zM965 572h1v1h-1zM981 5h1v1h-1zM981 22h1v1h-1zM981 39h1v1h-1zM981 55h1v1h-1zM981 72h1v1h-1zM981 89h1v1h-1zM981 105h1v1h-1zM981 122h1v1h-1zM981 139h1v1h-1zM981 155h1v1h-1zM981 172h1v1h-1zM981 189h1v1h-1zM981 205h1v1h-1zM981 222h1v1h-1zM981 239h1v1h-1zM981 255h1v1h-1zM981 272h1v1h-1zM981 289h1v1h-1zM981 305h1v1h-1zM981 322h1v1h-1zM981 339h1v1h-1zM981 355h1v1h-1zM981 372h1v1h-1zM981 389h1v1h-1zM981 405h1v1h-1zM981 422h1v1h-1zM981 439h1v1h-1zM981 455h1v1h-1zM981 472h1v1h-1zM981 489h1v1h-1zM981 505h1v1h-1zM981 522h1v1h-1zM981 539h1v1h-1zM981 555h1v1h-1zM981 572h1v1h-1zM998 5h1v1h-1zM998 22h1v1h-1zM998 39h1v1h-1zM998 55h1v1h-1zM998 72h1v1h-1zM998 89h1v1h-1zM998 105h1v1h-1zM998 122h1v1h-1zM998 139h1v1h-1zM998 155h1v1h-1zM998 172h1v1h-1zM998 189h1v1h-1zM998 205h1v1h-1zM998 222h1v1h-1zM998 239h1v1h-1zM998 255h1v1h-1zM998 272h1v1h-1zM998 289h1v1h-1zM998 305h1v1h-1zM998 322h1v1h-1zM998 339h1v1h-1zM998 355h1v1h-1zM998 372h1v1h-1zM998 389h1v1h-1zM998 405h1v1h-1zM998 422h1v1h-1zM998 439h1v1h-1zM998 455h1v1h-1zM998 472h1v1h-1zM998 489h1v1h-1zM998 505h1v1h-1zM998 522h1v1h-1zM998 539h1v1h-1zM998 555h1v1h-1zM998 572h1v1h-1zM1015 5h1v1h-1zM1015 22h1v1h-1zM1015 39h1v1h-1zM1015 55h1v1h-1zM1015 72h1v1h-1zM1015 89h1v1h-1zM1015 105h1v1h-1zM1015 122h1v1h-1zM1015 139h1v1h-1zM1015 155h1v1h-1zM1015 172h1v1h-1zM1015 189h1v1h-1zM1015 205h1v1h-1zM1015 222h1v1h-1zM1015 239h1v1h-1zM1015 255h1v1h-1zM1015 272h1v1h-1zM1015 289h1v1h-1zM1015 305h1v1h-1zM1015 322h1v1h-1zM1015 339h1v1h-1zM1015 355h1v1h-1zM1015 372h1v1h-1zM1015 389h1v1h-1zM1015 405h1v1h-1zM1015 422h1v1h-1zM1015 439h1v1h-1zM1015 455h1v1h-1zM1015 472h1v1h-1zM1015 489h1v1h-1zM1015 505h1v1h-1zM1015 522h1v1h-1zM1015 539h1v1h-1zM1015 555h1v1h-1zM1015 572h1v1h-1zM1031 5h1v1h-1zM1031 22h1v1h-1zM1031 39h1v1h-1zM1031 55h1v1h-1zM1031 72h1v1h-1zM1031 89h1v1h-1zM1031 105h1v1h-1zM1031 122h1v1h-1zM1031 139h1v1h-1zM1031 155h1v1h-1zM1031 172h1v1h-1zM1031 189h1v1h-1zM1031 205h1v1h-1zM1031 222h1v1h-1zM1031 239h1v1h-1zM1031 255h1v1h-1zM1031 272h1v1h-1zM1031 289h1v1h-1zM1031 305h1v1h-1zM1031 322h1v1h-1zM1031 339h1v1h-1zM1031 355h1v1h-1zM1031 372h1v1h-1zM1031 389h1v1h-1zM1031 405h1v1h-1zM1031 422h1v1h-1zM1031 439h1v1h-1zM1031 455h1v1h-1zM1031 472h1v1h-1zM1031 489h1v1h-1zM1031 505h1v1h-1zM1031 522h1v1h-1zM1031 539h1v1h-1zM1031 555h1v1h-1zM1031 572h1v1h-1zM1048 5h1v1h-1zM1048 22h1v1h-1zM1048 39h1v1h-1zM1048 55h1v1h-1zM1048 72h1v1h-1zM1048 89h1v1h-1zM1048 105h1v1h-1zM1048 122h1v1h-1zM1048 139h1v1h-1zM1048 155h1v1h-1zM1048 172h1v1h-1zM1048 189h1v1h-1zM1048 205h1v1h-1zM1048 222h1v1h-1zM1048 239h1v1h-1zM1048 255h1v1h-1zM1048 272h1v1h-1zM1048 289h1v1h-1zM1048 305h1v1h-1zM1048 322h1v1h-1zM1048 339h1v1h-1zM1048 355h1v1h-1zM1048 372h1v1h-1zM1048 389h1v1h-1zM1048 405h1v1h-1zM1048 422h1v1h-1zM1048 439h1v1h-1zM1048 455h1v1h-1zM1048 472h1v1h-1zM1048 489h1v1h-1zM1048 505h1v1h-1zM1048 522h1v1h-1zM1048 539h1v1h-1zM1048 555h1v1h-1zM1048 572h1v1h-1zM1065 5h1v1h-1zM1065 22h1v1h-1zM1065 39h1v1h-1zM1065 55h1v1h-1zM1065 72h1v1h-1zM1065 89h1v1h-1zM1065 105h1v1h-1zM1065 122h1v1h-1zM1065 139h1v1h-1zM1065 155h1v1h-1zM1065 172h1v1h-1zM1065 189h1v1h-1zM1065 205h1v1h-1zM1065 222h1v1h-1zM1065 239h1v1h-1zM1065 255h1v1h-1zM1065 272h1v1h-1zM1065 289h1v1h-1zM1065 305h1v1h-1zM1065 322h1v1h-1zM1065 339h1v1h-1zM1065 355h1v1h-1zM1065 372h1v1h-1zM1065 389h1v1h-1zM1065 405h1v1h-1zM1065 422h1v1h-1zM1065 439h1v1h-1zM1065 455h1v1h-1zM1065 472h1v1h-1zM1065 489h1v1h-1zM1065 505h1v1h-1zM1065 522h1v1h-1zM1065 539h1v1h-1zM1065 555h1v1h-1zM1065 572h1v1h-1zM1081 5h1v1h-1zM1081 22h1v1h-1zM1081 39h1v1h-1zM1081 55h1v1h-1zM1081 72h1v1h-1zM1081 89h1v1h-1zM1081 105h1v1h-1zM1081 122h1v1h-1zM1081 139h1v1h-1zM1081 155h1v1h-1zM1081 172h1v1h-1zM1081 189h1v1h-1zM1081 205h1v1h-1zM1081 222h1v1h-1zM1081 239h1v1h-1zM1081 255h1v1h-1zM1081 272h1v1h-1zM1081 289h1v1h-1zM1081 305h1v1h-1zM1081 322h1v1h-1zM1081 339h1v1h-1zM1081 355h1v1h-1zM1081 372h1v1h-1zM1081 389h1v1h-1zM1081 405h1v1h-1zM1081 422h1v1h-1zM1081 439h1v1h-1zM1081 455h1v1h-1zM1081 472h1v1h-1zM1081 489h1v1h-1zM1081 505h1v1h-1zM1081 522h1v1h-1zM1081 539h1v1h-1zM1081 555h1v1h-1zM1081 572h1v1h-1zM1098 5h1v1h-1zM1098 22h1v1h-1zM1098 39h1v1h-1zM1098 55h1v1h-1zM1098 72h1v1h-1zM1098 89h1v1h-1zM1098 105h1v1h-1zM1098 122h1v1h-1zM1098 139h1v1h-1zM1098 155h1v1h-1zM1098 172h1v1h-1zM1098 189h1v1h-1zM1098 205h1v1h-1zM1098 222h1v1h-1zM1098 239h1v1h-1zM1098 255h1v1h-1zM1098 272h1v1h-1zM1098 289h1v1h-1zM1098 305h1v1h-1zM1098 322h1v1h-1zM1098 339h1v1h-1zM1098 355h1v1h-1zM1098 372h1v1h-1zM1098 389h1v1h-1zM1098 405h1v1h-1zM1098 422h1v1h-1zM1098 439h1v1h-1zM1098 455h1v1h-1zM1098 472h1v1h-1zM1098 489h1v1h-1zM1098 505h1v1h-1zM1098 522h1v1h-1zM1098 539h1v1h-1zM1098 555h1v1h-1zM1098 572h1v1h-1zM1115 5h1v1h-1zM1115 22h1v1h-1zM1115 39h1v1h-1zM1115 55h1v1h-1zM1115 72h1v1h-1zM1115 89h1v1h-1zM1115 105h1v1h-1zM1115 122h1v1h-1zM1115 139h1v1h-1zM1115 155h1v1h-1zM1115 172h1v1h-1zM1115 189h1v1h-1zM1115 205h1v1h-1zM1115 222h1v1h-1zM1115 239h1v1h-1zM1115 255h1v1h-1zM1115 272h1v1h-1zM1115 289h1v1h-1zM1115 305h1v1h-1zM1115 322h1v1h-1zM1115 339h1v1h-1zM1115 355h1v1h-1zM1115 372h1v1h-1zM1115 389h1v1h-1zM1115 405h1v1h-1zM1115 422h1v1h-1zM1115 439h1v1h-1zM1115 455h1v1h-1zM1115 472h1v1h-1zM1115 489h1v1h-1zM1115 505h1v1h-1zM1115 522h1v1h-1zM1115 539h1v1h-1zM1115 555h1v1h-1zM1115 572h1v1h-1zM1131 5h1v1h-1zM1131 22h1v1h-1zM1131 39h1v1h-1zM1131 55h1v1h-1zM1131 72h1v1h-1zM1131 89h1v1h-1zM1131 105h1v1h-1zM1131 122h1v1h-1zM1131 139h1v1h-1zM1131 155h1v1h-1zM1131 172h1v1h-1zM1131 189h1v1h-1zM1131 205h1v1h-1zM1131 222h1v1h-1zM1131 239h1v1h-1zM1131 255h1v1h-1zM1131 272h1v1h-1zM1131 289h1v1h-1zM1131 305h1v1h-1zM1131 322h1v1h-1zM1131 339h1v1h-1zM1131 355h1v1h-1zM1131 372h1v1h-1zM1131 389h1v1h-1zM1131 405h1v1h-1zM1131 422h1v1h-1zM1131 439h1v1h-1zM1131 455h1v1h-1zM1131 472h1v1h-1zM1131 489h1v1h-1zM1131 505h1v1h-1zM1131 522h1v1h-1zM1131 539h1v1h-1zM1131 555h1v1h-1zM1131 572h1v1h-1zM1148 5h1v1h-1zM1148 22h1v1h-1zM1148 39h1v1h-1zM1148 55h1v1h-1zM1148 72h1v1h-1zM1148 89h1v1h-1zM1148 105h1v1h-1zM1148 122h1v1h-1zM1148 139h1v1h-1zM1148 155h1v1h-1zM1148 172h1v1h-1zM1148 189h1v1h-1zM1148 205h1v1h-1zM1148 222h1v1h-1zM1148 239h1v1h-1zM1148 255h1v1h-1zM1148 272h1v1h-1zM1148 289h1v1h-1zM1148 305h1v1h-1zM1148 322h1v1h-1zM1148 339h1v1h-1zM1148 355h1v1h-1zM1148 372h1v1h-1zM1148 389h1v1h-1zM1148 405h1v1h-1zM1148 422h1v1h-1zM1148 439h1v1h-1zM1148 455h1v1h-1zM1148 472h1v1h-1zM1148 489h1v1h-1zM1148 505h1v1h-1zM1148 522h1v1h-1zM1148 539h1v1h-1zM1148 555h1v1h-1zM1148 572h1v1h-1zM1165 5h1v1h-1zM1165 22h1v1h-1zM1165 39h1v1h-1zM1165 55h1v1h-1zM1165 72h1v1h-1zM1165 89h1v1h-1zM1165 105h1v1h-1zM1165 122h1v1h-1zM1165 139h1v1h-1zM1165 155h1v1h-1zM1165 172h1v1h-1zM1165 189h1v1h-1zM1165 205h1v1h-1zM1165 222h1v1h-1zM1165 239h1v1h-1zM1165 255h1v1h-1zM1165 272h1v1h-1zM1165 289h1v1h-1zM1165 305h1v1h-1zM1165 322h1v1h-1zM1165 339h1v1h-1zM1165 355h1v1h-1zM1165 372h1v1h-1zM1165 389h1v1h-1zM1165 405h1v1h-1zM1165 422h1v1h-1zM1165 439h1v1h-1zM1165 455h1v1h-1zM1165 472h1v1h-1zM1165 489h1v1h-1zM1165 505h1v1h-1zM1165 522h1v1h-1zM1165 539h1v1h-1zM1165 555h1v1h-1zM1165 572h1v1h-1zM1181 5h1v1h-1zM1181 22h1v1h-1zM1181 39h1v1h-1zM1181 55h1v1h-1zM1181 72h1v1h-1zM1181 89h1v1h-1zM1181 105h1v1h-1zM1181 122h1v1h-1zM1181 139h1v1h-1zM1181 155h1v1h-1zM1181 172h1v1h-1zM1181 189h1v1h-1zM1181 205h1v1h-1zM1181 222h1v1h-1zM1181 239h1v1h-1zM1181 255h1v1h-1zM1181 272h1v1h-1zM1181 289h1v1h-1zM1181 305h1v1h-1zM1181 322h1v1h-1zM1181 339h1v1h-1zM1181 355h1v1h-1zM1181 372h1v1h-1zM1181 389h1v1h-1zM1181 405h1v1h-1zM1181 422h1v1h-1zM1181 439h1v1h-1zM1181 455h1v1h-1zM1181 472h1v1h-1zM1181 489h1v1h-1zM1181 505h1v1h-1zM1181 522h1v1h-1zM1181 539h1v1h-1zM1181 555h1v1h-1zM1181 572h1v1h-1zM1198 5h1v1h-1zM1198 22h1v1h-1zM1198 39h1v1h-1zM1198 55h1v1h-1zM1198 72h1v1h-1zM1198 89h1v1h-1zM1198 105h1v1h-1zM1198 122h1v1h-1zM1198 139h1v1h-1zM1198 155h1v1h-1zM1198 172h1v1h-1zM1198 189h1v1h-1zM1198 205h1v1h-1zM1198 222h1v1h-1zM1198 239h1v1h-1zM1198 255h1v1h-1zM1198 272h1v1h-1zM1198 289h1v1h-1zM1198 305h1v1h-1zM1198 322h1v1h-1zM1198 339h1v1h-1zM1198 355h1v1h-1zM1198 372h1v1h-1zM1198 389h1v1h-1zM1198 405h1v1h-1zM1198 422h1v1h-1zM1198 439h1v1h-1zM1198 455h1v1h-1zM1198 472h1v1h-1zM1198 489h1v1h-1zM1198 505h1v1h-1zM1198 522h1v1h-1zM1198 539h1v1h-1zM1198 555h1v1h-1zM1198 572h1v1h-1zM1215 5h1v1h-1zM1215 22h1v1h-1zM1215 39h1v1h-1zM1215 55h1v1h-1zM1215 72h1v1h-1zM1215 89h1v1h-1zM1215 105h1v1h-1zM1215 122h1v1h-1zM1215 139h1v1h-1zM1215 155h1v1h-1zM1215 172h1v1h-1zM1215 189h1v1h-1zM1215 205h1v1h-1zM1215 222h1v1h-1zM1215 239h1v1h-1zM1215 255h1v1h-1zM1215 272h1v1h-1zM1215 289h1v1h-1zM1215 305h1v1h-1zM1215 322h1v1h-1zM1215 339h1v1h-1zM1215 355h1v1h-1zM1215 372h1v1h-1zM1215 389h1v1h-1zM1215 405h1v1h-1zM1215 422h1v1h-1zM1215 439h1v1h-1zM1215 455h1v1h-1zM1215 472h1v1h-1zM1215 489h1v1h-1zM1215 505h1v1h-1zM1215 522h1v1h-1zM1215 539h1v1h-1zM1215 555h1v1h-1zM1215 572h1v1h-1zM1231 5h1v1h-1zM1231 22h1v1h-1zM1231 39h1v1h-1zM1231 55h1v1h-1zM1231 72h1v1h-1zM1231 89h1v1h-1zM1231 105h1v1h-1zM1231 122h1v1h-1zM1231 139h1v1h-1zM1231 155h1v1h-1zM1231 172h1v1h-1zM1231 189h1v1h-1zM1231 205h1v1h-1zM1231 222h1v1h-1zM1231 239h1v1h-1zM1231 255h1v1h-1zM1231 272h1v1h-1zM1231 289h1v1h-1zM1231 305h1v1h-1zM1231 322h1v1h-1zM1231 339h1v1h-1zM1231 355h1v1h-1zM1231 372h1v1h-1zM1231 389h1v1h-1zM1231 405h1v1h-1zM1231 422h1v1h-1zM1231 439h1v1h-1zM1231 455h1v1h-1zM1231 472h1v1h-1zM1231 489h1v1h-1zM1231 505h1v1h-1zM1231 522h1v1h-1zM1231 539h1v1h-1zM1231 555h1v1h-1zM1231 572h1v1h-1zM1248 5h1v1h-1zM1248 22h1v1h-1zM1248 39h1v1h-1zM1248 55h1v1h-1zM1248 72h1v1h-1zM1248 89h1v1h-1zM1248 105h1v1h-1zM1248 122h1v1h-1zM1248 139h1v1h-1zM1248 155h1v1h-1zM1248 172h1v1h-1zM1248 189h1v1h-1zM1248 205h1v1h-1zM1248 222h1v1h-1zM1248 239h1v1h-1zM1248 255h1v1h-1zM1248 272h1v1h-1zM1248 289h1v1h-1zM1248 305h1v1h-1zM1248 322h1v1h-1zM1248 339h1v1h-1zM1248 355h1v1h-1zM1248 372h1v1h-1zM1248 389h1v1h-1zM1248 405h1v1h-1zM1248 422h1v1h-1zM1248 439h1v1h-1zM1248 455h1v1h-1zM1248 472h1v1h-1zM1248 489h1v1h-1zM1248 505h1v1h-1zM1248 522h1v1h-1zM1248 539h1v1h-1zM1248 555h1v1h-1zM1248 572h1v1h-1zM1265 5h1v1h-1zM1265 22h1v1h-1zM1265 39h1v1h-1zM1265 55h1v1h-1zM1265 72h1v1h-1zM1265 89h1v1h-1zM1265 105h1v1h-1zM1265 122h1v1h-1zM1265 139h1v1h-1zM1265 155h1v1h-1zM1265 172h1v1h-1zM1265 189h1v1h-1zM1265 205h1v1h-1zM1265 222h1v1h-1zM1265 239h1v1h-1zM1265 255h1v1h-1zM1265 272h1v1h-1zM1265 289h1v1h-1zM1265 305h1v1h-1zM1265 322h1v1h-1zM1265 339h1v1h-1zM1265 355h1v1h-1zM1265 372h1v1h-1zM1265 389h1v1h-1zM1265 405h1v1h-1zM1265 422h1v1h-1zM1265 439h1v1h-1zM1265 455h1v1h-1zM1265 472h1v1h-1zM1265 489h1v1h-1zM1265 505h1v1h-1zM1265 522h1v1h-1zM1265 539h1v1h-1zM1265 555h1v1h-1zM1265 572h1v1h-1zM1281 5h1v1h-1zM1281 22h1v1h-1zM1281 39h1v1h-1zM1281 55h1v1h-1zM1281 72h1v1h-1zM1281 89h1v1h-1zM1281 105h1v1h-1zM1281 122h1v1h-1zM1281 139h1v1h-1zM1281 155h1v1h-1zM1281 172h1v1h-1zM1281 189h1v1h-1zM1281 205h1v1h-1zM1281 222h1v1h-1zM1281 239h1v1h-1zM1281 255h1v1h-1zM1281 272h1v1h-1zM1281 289h1v1h-1zM1281 305h1v1h-1zM1281 322h1v1h-1zM1281 339h1v1h-1zM1281 355h1v1h-1zM1281 372h1v1h-1zM1281 389h1v1h-1zM1281 405h1v1h-1zM1281 422h1v1h-1zM1281 439h1v1h-1zM1281 455h1v1h-1zM1281 472h1v1h-1zM1281 489h1v1h-1zM1281 505h1v1h-1zM1281 522h1v1h-1zM1281 539h1v1h-1zM1281 555h1v1h-1zM1281 572h1v1h-1zM1298 5h1v1h-1zM1298 22h1v1h-1zM1298 39h1v1h-1zM1298 55h1v1h-1zM1298 72h1v1h-1zM1298 89h1v1h-1zM1298 105h1v1h-1zM1298 122h1v1h-1zM1298 139h1v1h-1zM1298 155h1v1h-1zM1298 172h1v1h-1zM1298 189h1v1h-1zM1298 205h1v1h-1zM1298 222h1v1h-1zM1298 239h1v1h-1zM1298 255h1v1h-1zM1298 272h1v1h-1zM1298 289h1v1h-1zM1298 305h1v1h-1zM1298 322h1v1h-1zM1298 339h1v1h-1zM1298 355h1v1h-1zM1298 372h1v1h-1zM1298 389h1v1h-1zM1298 405h1v1h-1zM1298 422h1v1h-1zM1298 439h1v1h-1zM1298 455h1v1h-1zM1298 472h1v1h-1zM1298 489h1v1h-1zM1298 505h1v1h-1zM1298 522h1v1h-1zM1298 539h1v1h-1zM1298 555h1v1h-1zM1298 572h1v1h-1zM1315 5h1v1h-1zM1315 22h1v1h-1zM1315 39h1v1h-1zM1315 55h1v1h-1zM1315 72h1v1h-1zM1315 89h1v1h-1zM1315 105h1v1h-1zM1315 122h1v1h-1zM1315 139h1v1h-1zM1315 155h1v1h-1zM1315 172h1v1h-1zM1315 189h1v1h-1zM1315 205h1v1h-1zM1315 222h1v1h-1zM1315 239h1v1h-1zM1315 255h1v1h-1zM1315 272h1v1h-1zM1315 289h1v1h-1zM1315 305h1v1h-1zM1315 322h1v1h-1zM1315 339h1v1h-1zM1315 355h1v1h-1zM1315 372h1v1h-1zM1315 389h1v1h-1zM1315 405h1v1h-1zM1315 422h1v1h-1zM1315 439h1v1h-1zM1315 455h1v1h-1zM1315 472h1v1h-1zM1315 489h1v1h-1zM1315 505h1v1h-1zM1315 522h1v1h-1zM1315 539h1v1h-1zM1315 555h1v1h-1zM1315 572h1v1h-1z"/>
<rect x="130" y="71" width="19" height="2" fill="#009600"/>
<rect x="280" y="71" width="152" height="2" fill="#009600"/>
<rect x="130" y="71" width="2" height="469" fill="#009600"/>
<rect x="280" y="71" width="2" height="52" fill="#009600"/>
<rect x="130" y="121" width="152" height="2" fill="#009600"/>
<rect x="430" y="71" width="2" height="19" fill="#009600"/>
<rect x="430" y="88" width="302" height="2" fill="#009600"/>
<rect x="730" y="88" width="2" height="68" fill="#009600"/>
<rect x="14" y="188" width="135" height="2" fill="#009600"/>
<rect x="280" y="188" width="19" height="2" fill="#009600"/>
<rect x="297" y="188" width="2" height="52" fill="#009600"/>
<rect x="64" y="238" width="68" height="2" fill="#009600"/>
<rect x="64" y="238" width="2" height="68" fill="#009600"/>
<rect x="297" y="254" width="2" height="169" fill="#009600"/>
<rect x="297" y="421" width="569" height="2" fill="#009600"/>
<rect x="430" y="354" width="2" height="186" fill="#009600"/>
<rect x="130" y="454" width="302" height="2" fill="#009600"/>
<rect x="130" y="538" width="19" height="2" fill="#009600"/>
<rect x="280" y="538" width="152" height="2" fill="#009600"/>
<rect x="1030" y="421" width="102" height="2" fill="#009600"/>
<rect x="1130" y="288" width="2" height="135" fill="#009600"/>
<rect x="147" y="71" width="59.5" height="2" fill="#a00000"/>
<rect x="224.5" y="71" width="57.5" height="2" fill="#a00000"/>
<line x1="205.5" y1="45.5" x2="205.5" y2="99" stroke="#a00000" stroke-width="7" stroke-linecap="round"/>
<line x1="225.5" y1="45.5" x2="225.5" y2="99" stroke="#a00000" stroke-width="7" stroke-linecap="round"/>
<circle cx="148.5" cy="72.5" r="4" fill="none" stroke="#a00000" stroke-width="1.2" shape-rendering="geometricPrecision"/>
<circle cx="281.5" cy="72.5" r="4" fill="none" stroke="#a00000" stroke-width="1.2" shape-rendering="geometricPrecision"/>
<rect x="147" y="188" width="59.5" height="2" fill="#a00000"/>
<rect x="224.5" y="188" width="57.5" height="2" fill="#a00000"/>
<line x1="205.5" y1="162.5" x2="205.5" y2="216" stroke="#a00000" stroke-width="7" stroke-linecap="round"/>
<line x1="225.5" y1="162.5" x2="225.5" y2="216" stroke="#a00000" stroke-width="7" stroke-linecap="round"/>
<circle cx="148.5" cy="189.5" r="4" fill="none" stroke="#a00000" stroke-width="1.2" shape-rendering="geometricPrecision"/>
<circle cx="281.5" cy="189.5" r="4" fill="none" stroke="#a00000" stroke-width="1.2" shape-rendering="geometricPrecision"/>
<rect x="147" y="538" width="59.5" height="2" fill="#a00000"/>
<rect x="224.5" y="538" width="57.5" height="2" fill="#a00000"/>
<line x1="205.5" y1="512.5" x2="205.5" y2="566" stroke="#a00000" stroke-width="7" stroke-linecap="round"/>
<line x1="225.5" y1="512.5" x2="225.5" y2="566" stroke="#a00000" stroke-width="7" stroke-linecap="round"/>
<circle cx="148.5" cy="539.5" r="4" fill="none" stroke="#a00000" stroke-width="1.2" shape-rendering="geometricPrecision"/>
<circle cx="281.5" cy="539.5" r="4" fill="none" stroke="#a00000" stroke-width="1.2" shape-rendering="geometricPrecision"/>
<rect x="130" y="238" width="36" height="2" fill="#a00000"/>
<rect x="264" y="238" width="35" height="2" fill="#a00000"/>
<rect x="165" y="225.7" width="100" height="26.6" fill="none" stroke="#a00000" stroke-width="4"/>
<rect x="130" y="354" width="36" height="2" fill="#a00000"/>
<rect x="264" y="354" width="35" height="2" fill="#a00000"/>
<rect x="165" y="341.7" width="100" height="26.6" fill="none" stroke="#a00000" stroke-width="4"/>
<rect x="864" y="421" width="35" height="2" fill="#a00000"/>
<rect x="997" y="421" width="35" height="2" fill="#a00000"/>
<rect x="898" y="408.7" width="100" height="26.6" fill="none" stroke="#a00000" stroke-width="4"/>
<circle cx="298.5" cy="239.5" r="4" fill="none" stroke="#a00000" stroke-width="1.2" shape-rendering="geometricPrecision"/>
<circle cx="865.5" cy="422.5" r="4" fill="none" stroke="#a00000" stroke-width="1.2" shape-rendering="geometricPrecision"/>
<circle cx="1031.5" cy="422.5" r="4" fill="none" stroke="#a00000" stroke-width="1.2" shape-rendering="geometricPrecision"/>
<polygon points="398,155 398,289 531,222" fill="none" stroke="#a00000" stroke-width="2.2" stroke-linejoin="miter"/>
<rect x="297" y="188" width="102" height="2" fill="#a00000"/>
<rect x="297" y="254" width="102" height="2" fill="#a00000"/>
<rect x="530" y="221" width="102" height="2" fill="#a00000"/>
<rect x="430" y="88" width="2" height="84" fill="#a00000"/>
<rect x="430" y="272" width="2" height="84" fill="#a00000"/>
<circle cx="431.5" cy="89.5" r="4" fill="none" stroke="#a00000" stroke-width="1.2" shape-rendering="geometricPrecision"/>
<circle cx="298.5" cy="255.5" r="4" fill="none" stroke="#a00000" stroke-width="1.2" shape-rendering="geometricPrecision"/>
<circle cx="431.5" cy="355.5" r="4" fill="none" stroke="#a00000" stroke-width="1.2" shape-rendering="geometricPrecision"/>
<circle cx="631.5" cy="222.5" r="4" fill="none" stroke="#a00000" stroke-width="1.2" shape-rendering="geometricPrecision"/>
<rect x="407" y="188" width="12" height="2" fill="#009696"/>
<rect x="412" y="183" width="2" height="12" fill="#009696"/>
<rect x="407" y="254.5" width="11.5" height="2" fill="#009696"/>
<rect x="426" y="186.5" width="12" height="2" fill="#009696"/>
<rect x="431" y="181.5" width="2" height="12" fill="#009696"/>
<rect x="431" y="240" width="2" height="10.5" fill="#009696"/>
<polyline points="422.5,196.5 437.5,201 422.5,205.5" fill="none" stroke="#009696" stroke-width="2.2" stroke-linecap="butt" stroke-linejoin="miter"/>
<polyline points="422.5,254.5 437.5,259.5 422.5,264.5" fill="none" stroke="#009696" stroke-width="2.2" stroke-linecap="butt" stroke-linejoin="miter"/>
<circle cx="131.5" cy="122.5" r="6.2" fill="#009600"/>
<circle cx="131.5" cy="239.5" r="6.2" fill="#009600"/>
<circle cx="131.5" cy="355.5" r="6.2" fill="#009600"/>
<circle cx="131.5" cy="455.5" r="6.2" fill="#009600"/>
<circle cx="298.5" cy="189.5" r="6.2" fill="#009600"/>
<circle cx="298.5" cy="355.5" r="6.2" fill="#009600"/>
<circle cx="431.5" cy="455.5" r="6.2" fill="#009600"/>
<circle cx="715.5" cy="222" r="42" fill="none" stroke="#a00000" stroke-width="4"/>
<line x1="738.287" y1="185.534" x2="744.116" y2="176.205" stroke="#a00000" stroke-width="3.6"/>
<line x1="753.109" y1="201.153" x2="762.729" y2="195.82" stroke="#a00000" stroke-width="3.6"/>
<line x1="758.5" y1="222" x2="769.5" y2="222" stroke="#a00000" stroke-width="3.6"/>
<line x1="753.109" y1="242.847" x2="762.729" y2="248.18" stroke="#a00000" stroke-width="3.6"/>
<line x1="738.287" y1="258.466" x2="744.116" y2="267.795" stroke="#a00000" stroke-width="3.6"/>
<rect x="630" y="221" width="59" height="2" fill="#a00000"/>
<rect x="687" y="208" width="2" height="42" fill="#a00000"/>
<rect x="687" y="208" width="9" height="2" fill="#a00000"/>
<rect x="730" y="154" width="2" height="56" fill="#a00000"/>
<rect x="730" y="241" width="2" height="49" fill="#a00000"/>
<circle cx="731.5" cy="155.5" r="4" fill="none" stroke="#a00000" stroke-width="1.2" shape-rendering="geometricPrecision"/>
<circle cx="731.5" cy="289.5" r="4" fill="none" stroke="#a00000" stroke-width="1.2" shape-rendering="geometricPrecision"/>
<line x1="695.5" y1="195" x2="695.5" y2="221" stroke="#a00000" stroke-width="4" stroke-linecap="round"/>
<polyline points="697,205 709,192 731,192" fill="none" stroke="#a00000" stroke-width="2" stroke-linecap="butt" stroke-linejoin="miter"/>
<polyline points="697,214 708,225" fill="none" stroke="#a00000" stroke-width="2" stroke-linecap="butt" stroke-linejoin="miter"/>
<polygon points="708.5,225.5 700.5,221 704,217.5" fill="#a00000"/>
<rect x="707" y="224" width="8" height="2" fill="#a00000"/>
<rect x="707" y="224" width="2" height="26" fill="#a00000"/>
<line x1="715.5" y1="212" x2="715.5" y2="239" stroke="#a00000" stroke-width="4" stroke-linecap="round"/>
<polyline points="717.5,221 729,209 731,209" fill="none" stroke="#a00000" stroke-width="2" stroke-linecap="butt" stroke-linejoin="miter"/>
<polyline points="717.5,231.5 728,241.5 731,242" fill="none" stroke="#a00000" stroke-width="2" stroke-linecap="butt" stroke-linejoin="miter"/>
<polygon points="729,242 721,238 724.5,234" fill="#a00000"/>
<rect x="687" y="248" width="45" height="2" fill="#a00000"/>
<path d="M691 253 V247 L693 244.5 L694.5 246 L696.5 244.5 L698.5 246 L700.5 244.5 L703 247 V253 Z" fill="#a00000"/>
<rect x="698" y="246" width="1.5" height="3" fill="#fff"/>
<path d="M713 253 V247 L715 244.5 L716.5 246 L718.5 244.5 L720.5 246 L722.5 244.5 L725 247 V253 Z" fill="#a00000"/>
<rect x="720" y="246" width="1.5" height="3" fill="#fff"/>
<rect x="729" y="190" width="4" height="4" fill="#a00000"/>
<rect x="729" y="207" width="4" height="4" fill="#a00000"/>
<rect x="729" y="240" width="4" height="4" fill="#a00000"/>
<rect x="729" y="247" width="4" height="4" fill="#a00000"/>
<rect x="686" y="220" width="4" height="4" fill="#a00000"/>
<rect x="706" y="247" width="4" height="4" fill="#a00000"/>
<rect x="730" y="208" width="11" height="2" fill="#a00000"/>
<rect x="730" y="241" width="11" height="2" fill="#a00000"/>
<rect x="739" y="208" width="2" height="35" fill="#a00000"/>
<polygon points="740,219 734.5,230 745.5,230" fill="#a00000"/>
<rect x="733.5" y="218.5" width="13" height="2" fill="#a00000"/>
<rect x="730" y="288" width="402" height="2" fill="#a00000"/>
<polygon points="780,271 780,306 814.5,288.5" fill="#a00000"/>
<rect x="813.5" y="271" width="2" height="35" fill="#a00000"/>
<polyline points="819.5,302.5 834.5,315.3" fill="none" stroke="#a00000" stroke-width="2" stroke-linecap="butt" stroke-linejoin="miter"/>
<polyline points="831,307.5 835,315.5 835,306" fill="none" stroke="#a00000" stroke-width="2" stroke-linecap="butt" stroke-linejoin="miter"/>
<polyline points="824.5,297.5 839.5,310.3" fill="none" stroke="#a00000" stroke-width="2" stroke-linecap="butt" stroke-linejoin="miter"/>
<polyline points="836,302.5 840,310.5 840,301" fill="none" stroke="#a00000" stroke-width="2" stroke-linecap="butt" stroke-linejoin="miter"/>
<circle cx="865.5" cy="289.5" r="4" fill="none" stroke="#a00000" stroke-width="1.2" shape-rendering="geometricPrecision"/>
<polygon points="913,271 913,306 947.5,288.5" fill="#a00000"/>
<rect x="946.5" y="271" width="2" height="35" fill="#a00000"/>
<polyline points="952.5,302.5 967.5,315.3" fill="none" stroke="#a00000" stroke-width="2" stroke-linecap="butt" stroke-linejoin="miter"/>
<polyline points="964,307.5 968,315.5 968,306" fill="none" stroke="#a00000" stroke-width="2" stroke-linecap="butt" stroke-linejoin="miter"/>
<polyline points="957.5,297.5 972.5,310.3" fill="none" stroke="#a00000" stroke-width="2" stroke-linecap="butt" stroke-linejoin="miter"/>
<polyline points="969,302.5 973,310.5 973,301" fill="none" stroke="#a00000" stroke-width="2" stroke-linecap="butt" stroke-linejoin="miter"/>
<circle cx="998.5" cy="289.5" r="4" fill="none" stroke="#a00000" stroke-width="1.2" shape-rendering="geometricPrecision"/>
<polygon points="1047,271 1047,306 1081.5,288.5" fill="#a00000"/>
<rect x="1080.5" y="271" width="2" height="35" fill="#a00000"/>
<polyline points="1086.5,302.5 1101.5,315.3" fill="none" stroke="#a00000" stroke-width="2" stroke-linecap="butt" stroke-linejoin="miter"/>
<polyline points="1098,307.5 1102,315.5 1102,306" fill="none" stroke="#a00000" stroke-width="2" stroke-linecap="butt" stroke-linejoin="miter"/>
<polyline points="1091.5,297.5 1106.5,310.3" fill="none" stroke="#a00000" stroke-width="2" stroke-linecap="butt" stroke-linejoin="miter"/>
<polyline points="1103,302.5 1107,310.5 1107,301" fill="none" stroke="#a00000" stroke-width="2" stroke-linecap="butt" stroke-linejoin="miter"/>
<circle cx="1131.5" cy="289.5" r="4" fill="none" stroke="#a00000" stroke-width="1.2" shape-rendering="geometricPrecision"/>
<circle cx="731.5" cy="289.5" r="4" fill="none" stroke="#a00000" stroke-width="1.2" shape-rendering="geometricPrecision"/>
<polygon points="48,305.5 81.5,305.5 65,321.5" fill="none" stroke="#a00000" stroke-width="2" stroke-linejoin="round"/>
<circle cx="65.5" cy="305.5" r="3.6" fill="none" stroke="#848484" stroke-width="1"/>
<rect x="669" y="354.5" width="24" height="1.2" fill="#000"/><rect x="680.5" y="343" width="1.2" height="24" fill="#000"/>
<rect x="1144.5" y="318.5" width="8" height="8" fill="none" stroke="#000" stroke-width="1"/>
<rect x="135" y="108" width="17" height="2" fill="#000000"/>
<rect x="274" y="108" width="17" height="2" fill="#000000"/>
<rect x="281.5" y="101.3" width="2" height="16.5" fill="#000000"/>
<rect x="151.7" y="441.5" width="17.1" height="2" fill="#000000"/>
<rect x="159" y="433.8" width="2" height="17.2" fill="#000000"/>
<rect x="242.9" y="441" width="17.3" height="2" fill="#000000"/>
<rect x="1206" y="308" width="17" height="2" fill="#000000"/>
<path d="M19.00 183.00L19.00 163.20L26.22 178.05L33.44 163.20L33.44 183.00M41.28 169.14L41.28 181.02L43.34 183.00L50.57 183.00M50.57 169.14L50.57 183.00M68.20 170.62L66.66 169.14L61.50 169.14L59.44 170.62L59.44 174.09L60.98 176.07L66.66 176.07L68.72 178.05L68.72 181.51L67.17 183.00L60.47 183.00L58.41 181.51M76.56 169.14L76.56 183.00M76.56 164.19L76.56 164.59M85.43 163.20L85.43 183.00M94.20 169.14L85.95 176.56M87.70 175.57L94.20 183.00" fill="none" stroke="#000000" stroke-width="2" stroke-linecap="round" stroke-linejoin="round"/>
<path d="M174.40 103.06L180.18 97.00L180.18 117.20M174.40 117.20L185.96 117.20M204.84 105.08L203.40 108.11L200.99 109.12L197.14 109.12L194.73 108.11L193.28 105.08L193.28 100.53L194.73 98.01L197.14 97.00L200.99 97.00L203.40 98.01L204.84 100.53L204.84 106.09L203.88 111.14L201.95 114.67L199.06 116.70L195.69 117.20M213.61 116.19L213.61 117.70L212.16 120.23M232.49 97.00L222.86 97.00L221.89 106.09L223.82 105.08L229.60 105.08L232.01 106.59L233.45 109.62L233.45 113.16L232.01 116.19L229.60 117.20L224.78 117.20L222.86 116.70L221.89 115.18M240.78 97.00L247.04 117.20L253.30 97.00" fill="none" stroke="#000000" stroke-width="2" stroke-linecap="round" stroke-linejoin="round"/>
<path d="M202.03 430.00L192.64 430.00L191.70 439.00L193.58 438.00L199.21 438.00L201.56 439.50L202.96 442.50L202.96 446.00L201.56 449.00L199.21 450.00L194.52 450.00L192.64 449.50L191.70 448.00M210.10 430.00L216.20 450.00L222.30 430.00" fill="none" stroke="#000000" stroke-width="2" stroke-linecap="round" stroke-linejoin="round"/>
<path d="M1152.60 297.30L1152.60 317.00L1161.74 317.00M1179.61 297.30L1169.45 297.30L1169.45 317.00L1179.61 317.00M1169.45 306.66L1176.56 306.66M1187.32 317.00L1187.32 297.30L1193.42 297.30L1195.95 297.79L1199.00 302.23L1199.00 312.07L1195.95 316.51L1193.42 317.00L1187.32 317.00" fill="none" stroke="#000000" stroke-width="2" stroke-linecap="round" stroke-linejoin="round"/>
<path d="M1232.00 317.00L1232.00 297.30L1240.40 297.30L1243.03 299.76L1243.03 304.69L1240.40 307.15L1232.00 307.15M1240.40 307.15L1241.46 307.15L1244.08 309.61L1244.08 314.54L1241.46 317.00L1232.00 317.00M1252.59 304.69L1254.17 303.21L1259.42 303.21L1261.52 304.69L1261.52 317.00M1261.52 309.12L1254.17 309.12L1252.07 311.09L1252.07 315.03L1254.17 317.00L1261.52 317.00M1269.51 303.21L1269.51 317.00M1269.51 305.18L1271.61 303.21L1276.86 303.21L1278.96 305.18L1278.96 317.00M1296.40 297.30L1296.40 317.00M1296.40 303.21L1289.05 303.21L1286.94 305.18L1286.94 315.03L1289.05 317.00L1296.40 317.00" fill="none" stroke="#000000" stroke-width="2" stroke-linecap="round" stroke-linejoin="round"/>
<path d="M498.15 106.45L498.15 125.01L500.00 128.49L503.07 129.65L506.77 129.65L509.84 128.49L511.69 125.01L511.69 106.45M521.04 109.35L524.12 106.45L530.89 106.45L533.35 108.19L533.35 114.57L530.89 117.47L525.97 119.79L525.97 123.27M525.97 128.26L525.97 129.42" fill="none" stroke="#009696" stroke-width="2.3" stroke-linecap="round" stroke-linejoin="round"/>
<path d="M465.15 140.15L478.43 140.15M471.79 140.15L471.79 163.35M486.84 140.15L486.84 163.35L496.79 163.35M511.84 140.15L507.41 144.21L505.76 148.27L505.20 151.75L505.20 157.55L506.31 161.03L508.52 163.35L515.16 163.35L517.37 161.03L518.48 157.55L518.48 148.27L516.82 144.21L511.84 140.15M532.42 140.15L536.85 140.15L540.16 143.05L540.16 147.11L537.40 150.59L529.65 150.59L526.89 146.53L527.44 144.79L531.31 140.15L532.42 140.15M529.65 150.59L526.89 154.07L526.89 159.87L529.65 163.35L537.40 163.35L540.16 159.87L540.16 154.07L537.40 150.59M548.57 147.11L555.21 140.15L555.21 163.35M548.57 163.35L561.85 163.35" fill="none" stroke="#009696" stroke-width="2.3" stroke-linecap="round" stroke-linejoin="round"/>
<path d="M199.60 235.64L203.56 231.80L203.56 244.60M199.60 244.60L207.52 244.60M216.51 231.80L213.86 234.04L212.87 236.28L212.54 238.20L212.54 241.40L213.20 243.32L214.52 244.60L218.49 244.60L219.81 243.32L220.47 241.40L220.47 236.28L219.48 234.04L216.51 231.80M225.49 231.80L225.49 244.60M231.10 235.64L225.82 240.44M226.94 239.80L231.10 244.60" fill="none" stroke="#009696" stroke-width="2" stroke-linecap="round" stroke-linejoin="round"/>
<path d="M205.80 269.80L205.80 256.10L211.27 256.10L212.97 257.81L212.97 261.58L211.27 263.29L205.80 263.29M209.56 263.29L212.97 269.80M218.17 257.81L219.88 256.10L223.63 256.10L225.00 257.13L225.00 260.89L223.63 262.61L220.90 263.98L220.90 266.03M220.90 268.98L220.90 269.66" fill="none" stroke="#009696" stroke-width="2" stroke-linecap="round" stroke-linejoin="round"/>
<path d="M198.80 361.90L198.80 348.90L204.18 348.90L205.86 350.52L205.86 354.10L204.18 355.72L198.80 355.72M202.50 355.72L205.86 361.90M211.64 348.90L219.03 348.90L215.00 353.77L217.01 353.77L218.36 354.75L219.03 356.05L219.03 359.95L218.02 361.57L217.01 361.90L212.98 361.90L211.64 361.57L210.96 360.60M224.81 348.90L232.20 348.90L228.17 353.77L230.18 353.77L231.53 354.75L232.20 356.05L232.20 359.95L231.19 361.57L230.18 361.90L226.15 361.90L224.81 361.57L224.14 360.60" fill="none" stroke="#009696" stroke-width="2" stroke-linecap="round" stroke-linejoin="round"/>
<path d="M205.80 385.60L205.80 373.20L211.27 373.20L212.97 374.75L212.97 378.16L211.27 379.71L205.80 379.71M209.56 379.71L212.97 385.60M218.17 374.75L219.88 373.20L223.63 373.20L225.00 374.13L225.00 377.54L223.63 379.09L220.90 380.33L220.90 382.19M220.90 384.86L220.90 385.48" fill="none" stroke="#009696" stroke-width="2" stroke-linecap="round" stroke-linejoin="round"/>
<path d="M924.20 425.80L924.20 413.70L929.68 413.70L931.40 415.21L931.40 418.54L929.68 420.05L924.20 420.05M927.97 420.05L931.40 425.80M936.61 417.33L940.72 413.70L940.72 425.80M936.61 425.80L944.83 425.80M950.38 415.51L951.75 414.00L953.47 413.70L955.52 413.70L957.24 414.31L958.27 415.82L958.27 417.94L957.24 419.45L950.04 425.80L958.27 425.80M967.59 413.70L964.85 415.82L963.82 417.94L963.47 419.75L963.47 422.77L964.16 424.59L965.53 425.80L969.64 425.80L971.01 424.59L971.70 422.77L971.70 417.94L970.67 415.82L967.59 413.70" fill="none" stroke="#009696" stroke-width="2" stroke-linecap="round" stroke-linejoin="round"/>
<path d="M938.50 402.00L938.50 388.70L944.19 388.70L945.97 390.36L945.97 394.02L944.19 395.68L938.50 395.68M942.41 395.68L945.97 402.00M951.38 390.36L953.16 388.70L957.08 388.70L958.50 389.70L958.50 393.36L957.08 395.02L954.23 396.35L954.23 398.34M954.23 401.20L954.23 401.87" fill="none" stroke="#009696" stroke-width="2" stroke-linecap="round" stroke-linejoin="round"/>
<path d="M631.90 162.90L639.72 162.90M635.81 162.90L635.81 175.90M644.67 162.90L644.67 175.90M650.27 175.90L650.27 162.90L655.48 162.90L657.10 164.53L657.10 168.10L655.48 169.72L650.27 169.72M662.05 166.80L665.96 162.90L665.96 175.90M662.05 175.90L669.87 175.90M675.15 164.85L676.45 163.22L678.08 162.90L680.03 162.90L681.66 163.55L682.63 165.18L682.63 167.45L681.66 169.08L674.82 175.90L682.63 175.90M691.49 162.90L688.89 165.18L687.91 167.45L687.58 169.40L687.58 172.65L688.24 174.60L689.54 175.90L693.45 175.90L694.75 174.60L695.40 172.65L695.40 167.45L694.42 165.18L691.49 162.90" fill="none" stroke="#009696" stroke-width="2" stroke-linecap="round" stroke-linejoin="round"/>
<path d="M653.40 216.50L653.40 204.50L657.92 204.50L659.33 206.00L659.33 209.00L657.92 210.50L653.40 210.50M657.92 210.50L658.49 210.50L659.90 212.00L659.90 215.00L658.49 216.50L653.40 216.50" fill="none" stroke="#009696" stroke-width="2" stroke-linecap="round" stroke-linejoin="round"/>
<path d="M662.74 263.40L659.88 265.29L658.80 267.18L658.80 274.11L659.88 275.69L660.95 276.00L664.53 276.00L665.61 275.69L666.68 274.11L666.68 266.55L665.61 264.97L662.74 263.40M663.82 274.43L667.04 277.26M672.13 264.97L673.92 263.40L677.87 263.40L679.30 264.34L679.30 267.81L677.87 269.38L675.00 270.64L675.00 272.53M675.00 275.24L675.00 275.87" fill="none" stroke="#009696" stroke-width="2" stroke-linecap="round" stroke-linejoin="round"/>
<path d="M715.60 168.80L714.23 169.52L713.20 170.95L713.20 173.83L714.57 175.62L717.31 176.70L722.79 176.70L725.53 175.62L726.90 173.83L726.90 170.95L725.87 169.52L724.50 168.80" fill="none" stroke="#009696" stroke-width="2" stroke-linecap="round" stroke-linejoin="round"/>
<path d="M712.90 267.80L712.90 274.80L727.20 274.80L727.20 267.80M719.69 274.80L719.69 269.90" fill="none" stroke="#009696" stroke-width="2" stroke-linecap="round" stroke-linejoin="round"/>
<path d="M174.28 61.28L172.87 61.95L171.80 63.30L171.80 66.00L173.22 67.69L176.06 68.70L181.74 68.70L184.58 67.69L186.00 66.00L186.00 63.30L184.94 61.95L183.52 61.28M173.58 56.15L171.80 54.46L171.80 50.75L172.87 49.40L176.77 49.40L178.55 50.75L179.97 53.45L182.09 53.45M185.15 53.45L185.86 53.45" fill="none" stroke="#009696" stroke-width="2" stroke-linecap="round" stroke-linejoin="round"/>
<path d="M237.85 66.80L233.80 62.81L247.30 62.81M247.30 66.80L247.30 58.82M233.80 49.77L236.16 52.43L238.53 53.43L240.55 53.76L243.93 53.76L245.95 53.10L247.30 51.77L247.30 47.78L245.95 46.45L243.93 45.78L238.53 45.78L236.16 46.78L233.80 49.77M233.80 36.74L236.16 39.40L238.53 40.40L240.55 40.73L243.93 40.73L245.95 40.06L247.30 38.73L247.30 34.74L245.95 33.41L243.93 32.75L238.53 32.75L236.16 33.74L233.80 36.74M237.85 27.69L247.30 27.69M239.20 27.69L237.85 26.36L237.85 23.04L239.20 21.71L247.30 21.71M233.80 10.00L233.80 16.65L247.30 16.65M240.21 16.65L240.21 12.00" fill="none" stroke="#009696" stroke-width="2" stroke-linecap="round" stroke-linejoin="round"/>
<path d="M183.41 225.50L179.30 221.12L193.00 221.12M193.00 225.50L193.00 216.75M183.41 211.20L196.43 211.20M191.63 211.20L193.00 209.74L193.00 206.10L191.63 204.64M183.41 204.64L193.00 204.64M179.30 191.80L179.30 199.09L193.00 199.09M185.81 199.09L185.81 193.99" fill="none" stroke="#009696" stroke-width="2" stroke-linecap="round" stroke-linejoin="round"/>
<path d="M243.46 203.23L242.17 203.94L241.20 205.35L241.20 208.17L242.49 209.94L245.07 211.00L250.23 211.00L252.81 209.94L254.10 208.17L254.10 205.35L253.13 203.94L251.84 203.23M242.81 197.86L241.20 196.10L241.20 192.21L242.17 190.80L245.72 190.80L247.33 192.21L248.62 195.04L250.55 195.04M253.33 195.04L253.97 195.04" fill="none" stroke="#009696" stroke-width="2" stroke-linecap="round" stroke-linejoin="round"/>
<path d="M174.65 527.92L173.25 528.59L172.20 529.93L172.20 532.61L173.60 534.29L176.40 535.30L182.00 535.30L184.80 534.29L186.20 532.61L186.20 529.93L185.15 528.59L183.75 527.92M173.95 522.81L172.20 521.13L172.20 517.44L173.25 516.10L177.10 516.10L178.85 517.44L180.25 520.13L182.35 520.13M185.36 520.13L186.06 520.13" fill="none" stroke="#009696" stroke-width="2" stroke-linecap="round" stroke-linejoin="round"/>
<path d="M238.15 534.40L234.10 530.37L247.60 530.37M247.60 534.40L247.60 526.33M234.10 517.19L236.46 519.88L238.82 520.89L240.85 521.23L244.22 521.23L246.25 520.55L247.60 519.21L247.60 515.18L246.25 513.83L244.22 513.16L238.82 513.16L236.46 514.17L234.10 517.19M234.10 504.02L236.46 506.71L238.82 507.72L240.85 508.05L244.22 508.05L246.25 507.38L247.60 506.04L247.60 502.00L246.25 500.66L244.22 499.99L238.82 499.99L236.46 501.00L234.10 504.02M238.15 494.88L247.60 494.88M239.50 494.88L238.15 493.53L238.15 490.17L239.50 488.83L247.60 488.83M234.10 477.00L234.10 483.72L247.60 483.72M240.51 483.72L240.51 479.02" fill="none" stroke="#009696" stroke-width="2" stroke-linecap="round" stroke-linejoin="round"/>
<path d="M343.22 162.90L354.50 162.90L348.35 170.21L351.43 170.21L353.48 171.68L354.50 173.62L354.50 179.47L352.96 181.91L351.43 182.40L345.27 182.40L343.22 181.91L342.20 180.45" fill="none" stroke="#a00000" stroke-width="2" stroke-linecap="round" stroke-linejoin="round"/>
<path d="M342.71 233.04L344.76 230.59L347.32 230.10L350.40 230.10L352.96 231.08L354.50 233.53L354.50 236.96L352.96 239.41L342.20 249.70L354.50 249.70" fill="none" stroke="#a00000" stroke-width="2" stroke-linecap="round" stroke-linejoin="round"/>
<path d="M585.25 196.70L581.55 197.71L578.77 199.73L576.92 203.26L576.00 207.81L576.00 213.37L577.39 215.89L579.70 216.90L583.40 216.90L585.71 215.89L587.10 212.86L587.10 208.82L585.71 205.79L583.40 204.78L579.70 204.78L577.39 206.29L576.00 208.82" fill="none" stroke="#a00000" stroke-width="2" stroke-linecap="round" stroke-linejoin="round"/>
<path d="M405.90 136.90L405.90 122.90L425.80 131.90" fill="none" stroke="#a00000" stroke-width="2" stroke-linecap="round" stroke-linejoin="round"/>
<path d="M405.00 313.71L418.52 318.70L418.52 306.90M412.28 310.08L425.80 310.08" fill="none" stroke="#a00000" stroke-width="2" stroke-linecap="round" stroke-linejoin="round"/>
<path d="M735.03 177.23L733.25 175.77L732.90 173.93L732.90 171.73L733.61 169.90L735.38 168.80L737.87 168.80L739.64 169.90L747.10 177.60L747.10 168.80" fill="none" stroke="#a00000" stroke-width="2" stroke-linecap="round" stroke-linejoin="round"/>
<path d="M652.60 228.71L656.30 225.50L656.30 236.20M652.60 236.20L660.00 236.20" fill="none" stroke="#a00000" stroke-width="2" stroke-linecap="round" stroke-linejoin="round"/>
<path d="M733.60 275.04L733.60 267.80L738.62 271.75L738.62 269.77L739.63 268.46L740.97 267.80L744.99 267.80L746.66 268.79L747.00 269.77L747.00 273.73L746.66 275.04L745.66 275.70" fill="none" stroke="#a00000" stroke-width="2" stroke-linecap="round" stroke-linejoin="round"/>
<path d="M51.64 311.72L50.68 312.47L50.20 313.73L50.20 315.24L50.92 316.49L52.60 317.50L57.40 317.50L59.08 316.49L59.80 315.24L59.80 313.73L59.32 312.47L58.36 311.46L55.48 311.46L55.48 313.98M59.80 307.64L50.20 307.64L59.80 301.61L50.20 301.61M59.80 297.78L50.20 297.78L50.20 294.77L50.44 293.51L52.60 292.00L57.40 292.00L59.56 293.51L59.80 294.77L59.80 297.78" fill="none" stroke="#848484" stroke-width="1.6" stroke-linecap="round" stroke-linejoin="round"/>
<path d="M67.20 307.60L63.00 304.95L77.00 304.95M77.00 307.60L77.00 302.30" fill="none" stroke="#848484" stroke-width="2" stroke-linecap="round" stroke-linejoin="round"/>
<path d="M786.80 260.60L786.80 243.70L791.65 243.70L793.66 244.12L796.09 247.93L796.09 256.38L793.66 260.18L791.65 260.60L786.80 260.60M802.22 245.81L804.24 243.70L808.68 243.70L810.30 244.97L810.30 249.62L808.68 251.73L805.45 253.42L805.45 255.95M805.45 259.59L805.45 260.43" fill="none" stroke="#009696" stroke-width="2" stroke-linecap="round" stroke-linejoin="round"/>
<path d="M779.60 311.60L779.60 327.70L786.99 327.70M801.43 311.60L793.22 311.60L793.22 327.70L801.43 327.70M793.22 319.25L798.97 319.25M807.66 327.70L807.66 311.60L812.59 311.60L814.64 312.00L817.10 315.62L817.10 323.68L814.64 327.30L812.59 327.70L807.66 327.70" fill="none" stroke="#009696" stroke-width="2" stroke-linecap="round" stroke-linejoin="round"/>
<path d="M753.00 275.01L756.50 271.20L756.50 283.90M753.00 283.90L760.00 283.90" fill="none" stroke="#a00000" stroke-width="2" stroke-linecap="round" stroke-linejoin="round"/>
<path d="M835.62 272.95L836.90 271.32L838.51 271.00L840.43 271.00L842.04 271.65L843.00 273.27L843.00 275.55L842.04 277.18L835.30 284.00L843.00 284.00" fill="none" stroke="#a00000" stroke-width="2" stroke-linecap="round" stroke-linejoin="round"/>
<path d="M920.13 260.60L920.13 243.70L924.98 243.70L926.99 244.12L929.42 247.93L929.42 256.38L926.99 260.18L924.98 260.60L920.13 260.60M935.55 245.81L937.57 243.70L942.01 243.70L943.63 244.97L943.63 249.62L942.01 251.73L938.78 253.42L938.78 255.95M938.78 259.59L938.78 260.43" fill="none" stroke="#009696" stroke-width="2" stroke-linecap="round" stroke-linejoin="round"/>
<path d="M912.93 311.60L912.93 327.70L920.32 327.70M934.76 311.60L926.55 311.60L926.55 327.70L934.76 327.70M926.55 319.25L932.30 319.25M940.99 327.70L940.99 311.60L945.92 311.60L947.97 312.00L950.43 315.62L950.43 323.68L947.97 327.30L945.92 327.70L940.99 327.70" fill="none" stroke="#009696" stroke-width="2" stroke-linecap="round" stroke-linejoin="round"/>
<path d="M886.33 275.01L889.83 271.20L889.83 283.90M886.33 283.90L893.33 283.90" fill="none" stroke="#a00000" stroke-width="2" stroke-linecap="round" stroke-linejoin="round"/>
<path d="M968.95 272.95L970.23 271.32L971.84 271.00L973.76 271.00L975.37 271.65L976.33 273.27L976.33 275.55L975.37 277.18L968.63 284.00L976.33 284.00" fill="none" stroke="#a00000" stroke-width="2" stroke-linecap="round" stroke-linejoin="round"/>
<path d="M1053.47 260.60L1053.47 243.70L1058.32 243.70L1060.33 244.12L1062.76 247.93L1062.76 256.38L1060.33 260.18L1058.32 260.60L1053.47 260.60M1068.89 245.81L1070.91 243.70L1075.35 243.70L1076.97 244.97L1076.97 249.62L1075.35 251.73L1072.12 253.42L1072.12 255.95M1072.12 259.59L1072.12 260.43" fill="none" stroke="#009696" stroke-width="2" stroke-linecap="round" stroke-linejoin="round"/>
<path d="M1046.27 311.60L1046.27 327.70L1053.66 327.70M1068.10 311.60L1059.89 311.60L1059.89 327.70L1068.10 327.70M1059.89 319.25L1065.64 319.25M1074.33 327.70L1074.33 311.60L1079.26 311.60L1081.31 312.00L1083.77 315.62L1083.77 323.68L1081.31 327.30L1079.26 327.70L1074.33 327.70" fill="none" stroke="#009696" stroke-width="2" stroke-linecap="round" stroke-linejoin="round"/>
<path d="M1019.67 275.01L1023.17 271.20L1023.17 283.90M1019.67 283.90L1026.67 283.90" fill="none" stroke="#a00000" stroke-width="2" stroke-linecap="round" stroke-linejoin="round"/>
<path d="M1102.29 272.95L1103.57 271.32L1105.18 271.00L1107.10 271.00L1108.71 271.65L1109.67 273.27L1109.67 275.55L1108.71 277.18L1101.97 284.00L1109.67 284.00" fill="none" stroke="#a00000" stroke-width="2" stroke-linecap="round" stroke-linejoin="round"/>
</svg></body></html>
